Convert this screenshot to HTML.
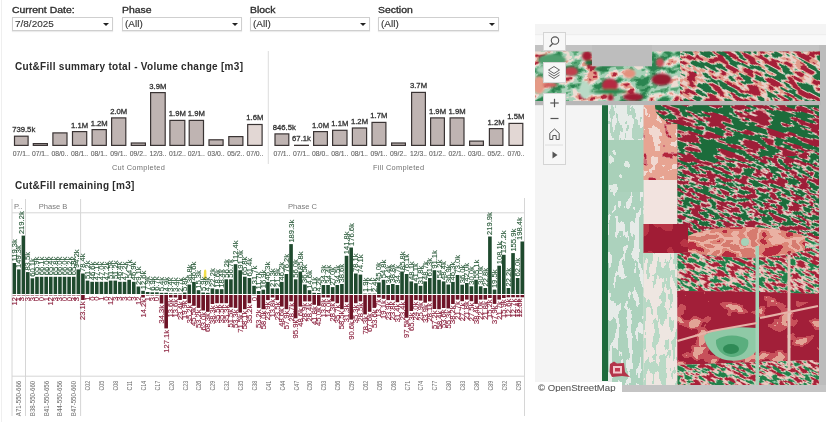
<!DOCTYPE html>
<html><head><meta charset="utf-8"><style>
*{margin:0;padding:0;box-sizing:border-box}
html,body{width:826px;height:422px;overflow:hidden;background:#fff;font-family:"Liberation Sans", Arial, sans-serif;color:#333}
.abs{position:absolute}
.flab{position:absolute;font-size:8.4px;line-height:10px;color:#2e2e2e;top:4.8px;transform:scaleX(1.245);transform-origin:0 0;white-space:nowrap;-webkit-text-stroke:0.3px #2e2e2e}
.dd span{display:inline-block;transform:scaleX(1.16);transform-origin:0 0;-webkit-text-stroke:0.1px #333}
.dd{position:absolute;top:17px;height:14px;border:1px solid #cfcfcf;background:#fff;font-size:8.6px;color:#333;padding-left:2.2px;line-height:12.4px;box-shadow:0 1px 1px rgba(0,0,0,0.08)}
.dd:after{content:"";position:absolute;right:3.5px;top:5px;border-left:3px solid transparent;border-right:3px solid transparent;border-top:3px solid #222}
.title{position:absolute;font-size:10px;font-weight:bold;color:#2b2b2b;letter-spacing:0.3px;white-space:nowrap}
svg text{font-family:"Liberation Sans", Arial, sans-serif}
.bl{font-size:7.7px;fill:#333;stroke:#333;stroke-width:0.3px}
.xl{font-size:6.8px;fill:#666;stroke:#666;stroke-width:0.12px}
.mapbtn{position:absolute;left:543.4px;width:22.3px;background:#f7f7f7;border:1px solid #d4d4d4}
</style></head><body>
<div class="abs" style="left:1px;top:0;width:1px;height:422px;background:#efefef"></div>
<div class="flab" style="left:12px">Current Date:</div>
<div class="dd" style="left:12px;width:101px"><span>7/8/2025</span></div>
<div class="flab" style="left:122px">Phase</div>
<div class="dd" style="left:122px;width:120px"><span>(All)</span></div>
<div class="flab" style="left:250px">Block</div>
<div class="dd" style="left:250px;width:120px"><span>(All)</span></div>
<div class="flab" style="left:378px">Section</div>
<div class="dd" style="left:378px;width:121px"><span>(All)</span></div>

<div class="title" style="left:15px;top:61px">Cut&amp;Fill summary total - Volume change [m3]</div>
<svg class="abs" style="left:0;top:0" width="530" height="180" viewBox="0 0 530 180">
<line x1="268.3" y1="51" x2="268.3" y2="164" stroke="#dcdcdc" stroke-width="1"/>
<rect x="14.5" y="136.2" width="13.6" height="9.2" fill="#bfb4b2" stroke="#3a3434" stroke-width="1.2"/>
<text x="23.7" y="132.1" text-anchor="middle" class="bl">739.5k</text>
<text x="21.3" y="156" text-anchor="middle" class="xl">07/1..</text>
<rect x="33.3" y="143.6" width="14.1" height="1.8" fill="#bfb4b2" stroke="#3a3434" stroke-width="1.2"/>
<text x="40.4" y="156" text-anchor="middle" class="xl">07/1..</text>
<rect x="52.9" y="132.9" width="14.1" height="12.5" fill="#bfb4b2" stroke="#3a3434" stroke-width="1.2"/>
<text x="59.9" y="156" text-anchor="middle" class="xl">08/0..</text>
<rect x="72.5" y="131.6" width="14.2" height="13.8" fill="#bfb4b2" stroke="#3a3434" stroke-width="1.2"/>
<text x="79.6" y="127.5" text-anchor="middle" class="bl">1.1M</text>
<text x="79.6" y="156" text-anchor="middle" class="xl">08/1..</text>
<rect x="92.1" y="129.6" width="14.2" height="15.8" fill="#bfb4b2" stroke="#3a3434" stroke-width="1.2"/>
<text x="99.2" y="125.5" text-anchor="middle" class="bl">1.2M</text>
<text x="99.2" y="156" text-anchor="middle" class="xl">08/1..</text>
<rect x="111.6" y="117.9" width="14.2" height="27.5" fill="#bfb4b2" stroke="#3a3434" stroke-width="1.2"/>
<text x="118.7" y="113.8" text-anchor="middle" class="bl">2.0M</text>
<text x="118.7" y="156" text-anchor="middle" class="xl">09/1..</text>
<rect x="131.3" y="143.0" width="14.1" height="2.4" fill="#bfb4b2" stroke="#3a3434" stroke-width="1.2"/>
<text x="138.3" y="156" text-anchor="middle" class="xl">09/2..</text>
<rect x="150.6" y="92.6" width="14.6" height="52.8" fill="#bfb4b2" stroke="#3a3434" stroke-width="1.2"/>
<text x="157.9" y="88.5" text-anchor="middle" class="bl">3.9M</text>
<text x="157.9" y="156" text-anchor="middle" class="xl">12/3..</text>
<rect x="169.9" y="120.4" width="14.9" height="25.0" fill="#bfb4b2" stroke="#3a3434" stroke-width="1.2"/>
<text x="177.4" y="116.3" text-anchor="middle" class="bl">1.9M</text>
<text x="177.4" y="156" text-anchor="middle" class="xl">01/2..</text>
<rect x="189.2" y="120.4" width="14.3" height="25.0" fill="#bfb4b2" stroke="#3a3434" stroke-width="1.2"/>
<text x="196.3" y="116.3" text-anchor="middle" class="bl">1.9M</text>
<text x="196.3" y="156" text-anchor="middle" class="xl">02/1..</text>
<rect x="209.0" y="139.8" width="14.1" height="5.6" fill="#bfb4b2" stroke="#3a3434" stroke-width="1.2"/>
<text x="216.1" y="156" text-anchor="middle" class="xl">03/0..</text>
<rect x="228.8" y="136.6" width="14.1" height="8.8" fill="#bfb4b2" stroke="#3a3434" stroke-width="1.2"/>
<text x="235.8" y="156" text-anchor="middle" class="xl">05/2..</text>
<rect x="247.7" y="124.5" width="14.4" height="20.9" fill="#e2d7d4" stroke="#3a3434" stroke-width="1.2"/>
<text x="254.9" y="120.4" text-anchor="middle" class="bl">1.6M</text>
<text x="254.9" y="156" text-anchor="middle" class="xl">07/0..</text>
<rect x="275.0" y="133.9" width="13.8" height="11.5" fill="#bfb4b2" stroke="#3a3434" stroke-width="1.2"/>
<text x="284.3" y="129.8" text-anchor="middle" class="bl">846.5k</text>
<text x="281.9" y="156" text-anchor="middle" class="xl">07/1..</text>
<rect x="294.6" y="145.3" width="13.8" height="0.1" fill="#bfb4b2" stroke="#3a3434" stroke-width="1.2"/>
<text x="301.5" y="141.2" text-anchor="middle" class="bl">67.1k</text>
<text x="301.5" y="156" text-anchor="middle" class="xl">07/1..</text>
<rect x="313.6" y="131.6" width="13.8" height="13.8" fill="#bfb4b2" stroke="#3a3434" stroke-width="1.2"/>
<text x="320.5" y="127.5" text-anchor="middle" class="bl">1.0M</text>
<text x="320.5" y="156" text-anchor="middle" class="xl">08/0..</text>
<rect x="332.6" y="130.3" width="14.4" height="15.1" fill="#bfb4b2" stroke="#3a3434" stroke-width="1.2"/>
<text x="339.8" y="126.2" text-anchor="middle" class="bl">1.1M</text>
<text x="339.8" y="156" text-anchor="middle" class="xl">08/1..</text>
<rect x="352.4" y="128.0" width="14.2" height="17.4" fill="#bfb4b2" stroke="#3a3434" stroke-width="1.2"/>
<text x="359.5" y="123.9" text-anchor="middle" class="bl">1.2M</text>
<text x="359.5" y="156" text-anchor="middle" class="xl">08/1..</text>
<rect x="372.0" y="122.4" width="13.9" height="23.0" fill="#bfb4b2" stroke="#3a3434" stroke-width="1.2"/>
<text x="378.9" y="118.3" text-anchor="middle" class="bl">1.7M</text>
<text x="378.9" y="156" text-anchor="middle" class="xl">09/1..</text>
<rect x="391.6" y="143.0" width="13.8" height="2.4" fill="#bfb4b2" stroke="#3a3434" stroke-width="1.2"/>
<text x="398.5" y="156" text-anchor="middle" class="xl">09/2..</text>
<rect x="411.6" y="92.4" width="13.8" height="53.0" fill="#bfb4b2" stroke="#3a3434" stroke-width="1.2"/>
<text x="418.5" y="88.3" text-anchor="middle" class="bl">3.7M</text>
<text x="418.5" y="156" text-anchor="middle" class="xl">12/3..</text>
<rect x="430.6" y="117.9" width="13.8" height="27.5" fill="#bfb4b2" stroke="#3a3434" stroke-width="1.2"/>
<text x="437.5" y="113.8" text-anchor="middle" class="bl">1.9M</text>
<text x="437.5" y="156" text-anchor="middle" class="xl">01/2..</text>
<rect x="450.1" y="117.9" width="13.9" height="27.5" fill="#bfb4b2" stroke="#3a3434" stroke-width="1.2"/>
<text x="457.1" y="113.8" text-anchor="middle" class="bl">1.9M</text>
<text x="457.1" y="156" text-anchor="middle" class="xl">02/1..</text>
<rect x="469.6" y="141.1" width="13.8" height="4.3" fill="#bfb4b2" stroke="#3a3434" stroke-width="1.2"/>
<text x="476.5" y="156" text-anchor="middle" class="xl">03/0..</text>
<rect x="489.4" y="128.6" width="13.5" height="16.8" fill="#bfb4b2" stroke="#3a3434" stroke-width="1.2"/>
<text x="496.1" y="124.5" text-anchor="middle" class="bl">1.2M</text>
<text x="496.1" y="156" text-anchor="middle" class="xl">05/2..</text>
<rect x="509.0" y="123.4" width="13.8" height="22.0" fill="#e2d7d4" stroke="#3a3434" stroke-width="1.2"/>
<text x="515.9" y="119.3" text-anchor="middle" class="bl">1.5M</text>
<text x="515.9" y="156" text-anchor="middle" class="xl">07/0..</text>
<text x="138.5" y="170.2" text-anchor="middle" font-size="7.4" letter-spacing="0.3" fill="#707070">Cut Completed</text>
<text x="398.7" y="170.2" text-anchor="middle" font-size="7.4" letter-spacing="0.3" fill="#707070">Fill Completed</text>
</svg>

<div class="title" style="left:15px;top:180px">Cut&amp;Fill remaining [m3]</div>
<svg class="abs" style="left:0;top:0" width="530" height="422" viewBox="0 0 530 422">
<g stroke="#d6d6d6" stroke-width="1">
<line x1="12" y1="199" x2="12" y2="416"/>
<line x1="25.5" y1="199" x2="25.5" y2="416"/>
<line x1="80.6" y1="199" x2="80.6" y2="416"/>
<line x1="524.5" y1="198" x2="524.5" y2="416"/>
<line x1="12" y1="212.8" x2="524.5" y2="212.8"/>
<line x1="12" y1="376.2" x2="524.5" y2="376.2"/>
</g>
<g font-size="7.6" fill="#7a7a7a">
<text x="14" y="208.7">P..</text>
<text x="53" y="208.7" text-anchor="middle">Phase B</text>
<text x="302.5" y="208.7" text-anchor="middle">Phase C</text>
<path d="M203.5,279 L204,271 C204.5,269 206,269 206.3,271 L206.5,279 Z" fill="#f2e04a"/>
</g>
<g font-size="7.6" stroke-width="0.12">
<rect x="12.60" y="263.0" width="3.50" height="31.0" fill="#1f4a2e"/>
<rect x="12.60" y="295.0" width="3.50" height="0.5" fill="#6e1427"/>
<rect x="17.10" y="269.4" width="3.50" height="24.6" fill="#1f4a2e"/>
<rect x="17.10" y="295.0" width="3.50" height="0.5" fill="#6e1427"/>
<rect x="21.60" y="235.6" width="3.40" height="58.4" fill="#1f4a2e"/>
<rect x="21.60" y="295.0" width="3.40" height="0.5" fill="#6e1427"/>
<rect x="26.00" y="272.1" width="3.59" height="21.9" fill="#1f4a2e"/>
<rect x="26.00" y="295.0" width="3.59" height="0.5" fill="#6e1427"/>
<rect x="30.59" y="278.3" width="3.59" height="15.7" fill="#1f4a2e"/>
<rect x="30.59" y="295.0" width="3.59" height="0.5" fill="#6e1427"/>
<rect x="35.18" y="276.8" width="3.59" height="17.2" fill="#1f4a2e"/>
<rect x="35.18" y="295.0" width="3.59" height="0.5" fill="#6e1427"/>
<rect x="39.77" y="276.8" width="3.59" height="17.2" fill="#1f4a2e"/>
<rect x="39.77" y="295.0" width="3.59" height="0.5" fill="#6e1427"/>
<rect x="44.37" y="276.8" width="3.59" height="17.2" fill="#1f4a2e"/>
<rect x="44.37" y="295.0" width="3.59" height="0.5" fill="#6e1427"/>
<rect x="48.96" y="276.8" width="3.59" height="17.2" fill="#1f4a2e"/>
<rect x="48.96" y="295.0" width="3.59" height="0.5" fill="#6e1427"/>
<rect x="53.55" y="276.8" width="3.59" height="17.2" fill="#1f4a2e"/>
<rect x="53.55" y="295.0" width="3.59" height="0.5" fill="#6e1427"/>
<rect x="58.14" y="276.8" width="3.59" height="17.2" fill="#1f4a2e"/>
<rect x="58.14" y="295.0" width="3.59" height="0.5" fill="#6e1427"/>
<rect x="62.73" y="276.8" width="3.59" height="17.2" fill="#1f4a2e"/>
<rect x="62.73" y="295.0" width="3.59" height="0.5" fill="#6e1427"/>
<rect x="67.32" y="276.8" width="3.59" height="17.2" fill="#1f4a2e"/>
<rect x="67.32" y="295.0" width="3.59" height="0.5" fill="#6e1427"/>
<rect x="71.92" y="276.8" width="3.59" height="17.2" fill="#1f4a2e"/>
<rect x="71.92" y="295.0" width="3.59" height="0.5" fill="#6e1427"/>
<rect x="76.51" y="269.4" width="3.59" height="24.6" fill="#1f4a2e"/>
<rect x="76.51" y="295.0" width="3.59" height="0.5" fill="#6e1427"/>
<rect x="81.10" y="273.5" width="3.62" height="20.5" fill="#1f4a2e"/>
<rect x="81.10" y="295.0" width="3.62" height="5.0" fill="#6e1427"/>
<rect x="85.72" y="280.6" width="3.62" height="13.4" fill="#1f4a2e"/>
<rect x="90.35" y="281.8" width="3.62" height="12.2" fill="#1f4a2e"/>
<rect x="94.97" y="281.8" width="3.62" height="12.2" fill="#1f4a2e"/>
<rect x="99.60" y="281.8" width="3.62" height="12.2" fill="#1f4a2e"/>
<rect x="104.22" y="281.8" width="3.62" height="12.2" fill="#1f4a2e"/>
<rect x="108.85" y="280.6" width="3.62" height="13.4" fill="#1f4a2e"/>
<rect x="113.47" y="280.6" width="3.62" height="13.4" fill="#1f4a2e"/>
<rect x="118.10" y="281.8" width="3.62" height="12.2" fill="#1f4a2e"/>
<rect x="122.72" y="281.8" width="3.62" height="12.2" fill="#1f4a2e"/>
<rect x="127.35" y="279.8" width="3.62" height="14.2" fill="#1f4a2e"/>
<rect x="131.97" y="281.8" width="3.62" height="12.2" fill="#1f4a2e"/>
<rect x="136.60" y="286.5" width="3.62" height="7.5" fill="#1f4a2e"/>
<rect x="141.22" y="290.8" width="3.62" height="3.2" fill="#1f4a2e"/>
<rect x="141.22" y="295.0" width="3.62" height="2.5" fill="#6e1427"/>
<rect x="145.85" y="292.0" width="3.62" height="2.0" fill="#1f4a2e"/>
<rect x="145.85" y="295.0" width="3.62" height="0.5" fill="#6e1427"/>
<rect x="150.47" y="292.3" width="3.62" height="1.7" fill="#1f4a2e"/>
<rect x="150.47" y="295.0" width="3.62" height="0.5" fill="#6e1427"/>
<rect x="155.10" y="292.3" width="3.62" height="1.7" fill="#1f4a2e"/>
<rect x="155.10" y="295.0" width="3.62" height="0.5" fill="#6e1427"/>
<rect x="159.72" y="292.8" width="3.62" height="1.2" fill="#1f4a2e"/>
<rect x="159.72" y="295.0" width="3.62" height="8.5" fill="#6e1427"/>
<rect x="164.35" y="292.8" width="3.62" height="1.2" fill="#1f4a2e"/>
<rect x="164.35" y="295.0" width="3.62" height="33.4" fill="#6e1427"/>
<rect x="168.97" y="293.3" width="3.62" height="0.7" fill="#1f4a2e"/>
<rect x="168.97" y="295.0" width="3.62" height="2.5" fill="#6e1427"/>
<rect x="173.60" y="293.3" width="3.62" height="0.7" fill="#1f4a2e"/>
<rect x="173.60" y="295.0" width="3.62" height="2.5" fill="#6e1427"/>
<rect x="178.22" y="293.5" width="3.62" height="0.5" fill="#1f4a2e"/>
<rect x="178.22" y="295.0" width="3.62" height="5.0" fill="#6e1427"/>
<rect x="182.85" y="292.5" width="3.62" height="1.5" fill="#1f4a2e"/>
<rect x="182.85" y="295.0" width="3.62" height="4.0" fill="#6e1427"/>
<rect x="187.47" y="284.5" width="3.62" height="9.5" fill="#1f4a2e"/>
<rect x="187.47" y="295.0" width="3.62" height="8.2" fill="#6e1427"/>
<rect x="192.10" y="281.9" width="3.62" height="12.1" fill="#1f4a2e"/>
<rect x="192.10" y="295.0" width="3.62" height="10.8" fill="#6e1427"/>
<rect x="196.72" y="290.2" width="3.62" height="3.8" fill="#1f4a2e"/>
<rect x="196.72" y="295.0" width="3.62" height="12.9" fill="#6e1427"/>
<rect x="201.35" y="292.5" width="3.62" height="1.5" fill="#1f4a2e"/>
<rect x="201.35" y="295.0" width="3.62" height="15.5" fill="#6e1427"/>
<rect x="205.97" y="292.8" width="3.62" height="1.2" fill="#1f4a2e"/>
<rect x="205.97" y="295.0" width="3.62" height="16.8" fill="#6e1427"/>
<rect x="210.60" y="288.4" width="3.62" height="5.6" fill="#1f4a2e"/>
<rect x="210.60" y="295.0" width="3.62" height="9.0" fill="#6e1427"/>
<rect x="215.22" y="289.2" width="3.62" height="4.8" fill="#1f4a2e"/>
<rect x="215.22" y="295.0" width="3.62" height="8.2" fill="#6e1427"/>
<rect x="219.85" y="289.2" width="3.62" height="4.8" fill="#1f4a2e"/>
<rect x="219.85" y="295.0" width="3.62" height="8.2" fill="#6e1427"/>
<rect x="224.47" y="279.3" width="3.62" height="14.7" fill="#1f4a2e"/>
<rect x="224.47" y="295.0" width="3.62" height="8.2" fill="#6e1427"/>
<rect x="229.10" y="279.3" width="3.62" height="14.7" fill="#1f4a2e"/>
<rect x="229.10" y="295.0" width="3.62" height="12.4" fill="#6e1427"/>
<rect x="233.72" y="264.2" width="3.62" height="29.8" fill="#1f4a2e"/>
<rect x="233.72" y="295.0" width="3.62" height="12.9" fill="#6e1427"/>
<rect x="238.35" y="270.2" width="3.62" height="23.8" fill="#1f4a2e"/>
<rect x="238.35" y="295.0" width="3.62" height="17.6" fill="#6e1427"/>
<rect x="242.97" y="276.7" width="3.62" height="17.3" fill="#1f4a2e"/>
<rect x="242.97" y="295.0" width="3.62" height="14.2" fill="#6e1427"/>
<rect x="247.60" y="278.0" width="3.62" height="16.0" fill="#1f4a2e"/>
<rect x="247.60" y="295.0" width="3.62" height="8.2" fill="#6e1427"/>
<rect x="252.22" y="285.8" width="3.63" height="8.2" fill="#1f4a2e"/>
<rect x="252.22" y="295.0" width="3.63" height="0.4" fill="#6e1427"/>
<rect x="256.85" y="291.0" width="3.62" height="3.0" fill="#1f4a2e"/>
<rect x="256.85" y="295.0" width="3.62" height="12.9" fill="#6e1427"/>
<rect x="261.48" y="289.7" width="3.62" height="4.3" fill="#1f4a2e"/>
<rect x="261.48" y="295.0" width="3.62" height="14.2" fill="#6e1427"/>
<rect x="266.10" y="281.9" width="3.62" height="12.1" fill="#1f4a2e"/>
<rect x="266.10" y="295.0" width="3.62" height="5.1" fill="#6e1427"/>
<rect x="270.73" y="288.4" width="3.62" height="5.6" fill="#1f4a2e"/>
<rect x="270.73" y="295.0" width="3.62" height="2.5" fill="#6e1427"/>
<rect x="275.35" y="288.4" width="3.62" height="5.6" fill="#1f4a2e"/>
<rect x="275.35" y="295.0" width="3.62" height="5.1" fill="#6e1427"/>
<rect x="279.98" y="281.9" width="3.62" height="12.1" fill="#1f4a2e"/>
<rect x="279.98" y="295.0" width="3.62" height="11.6" fill="#6e1427"/>
<rect x="284.60" y="274.0" width="3.62" height="20.0" fill="#1f4a2e"/>
<rect x="284.60" y="295.0" width="3.62" height="14.2" fill="#6e1427"/>
<rect x="289.23" y="244.1" width="3.62" height="49.9" fill="#1f4a2e"/>
<rect x="289.23" y="295.0" width="3.62" height="6.4" fill="#6e1427"/>
<rect x="293.85" y="279.3" width="3.62" height="14.7" fill="#1f4a2e"/>
<rect x="293.85" y="295.0" width="3.62" height="23.3" fill="#6e1427"/>
<rect x="298.48" y="271.5" width="3.62" height="22.5" fill="#1f4a2e"/>
<rect x="298.48" y="295.0" width="3.62" height="11.6" fill="#6e1427"/>
<rect x="303.10" y="284.5" width="3.62" height="9.5" fill="#1f4a2e"/>
<rect x="303.10" y="295.0" width="3.62" height="6.4" fill="#6e1427"/>
<rect x="307.73" y="290.2" width="3.62" height="3.8" fill="#1f4a2e"/>
<rect x="307.73" y="295.0" width="3.62" height="6.4" fill="#6e1427"/>
<rect x="312.35" y="292.8" width="3.62" height="1.2" fill="#1f4a2e"/>
<rect x="312.35" y="295.0" width="3.62" height="9.8" fill="#6e1427"/>
<rect x="316.98" y="293.0" width="3.62" height="1.0" fill="#1f4a2e"/>
<rect x="316.98" y="295.0" width="3.62" height="10.8" fill="#6e1427"/>
<rect x="321.60" y="285.0" width="3.62" height="9.0" fill="#1f4a2e"/>
<rect x="321.60" y="295.0" width="3.62" height="2.5" fill="#6e1427"/>
<rect x="326.23" y="285.0" width="3.62" height="9.0" fill="#1f4a2e"/>
<rect x="326.23" y="295.0" width="3.62" height="2.5" fill="#6e1427"/>
<rect x="330.85" y="287.1" width="3.62" height="6.9" fill="#1f4a2e"/>
<rect x="330.85" y="295.0" width="3.62" height="6.4" fill="#6e1427"/>
<rect x="335.48" y="285.0" width="3.62" height="9.0" fill="#1f4a2e"/>
<rect x="335.48" y="295.0" width="3.62" height="8.2" fill="#6e1427"/>
<rect x="340.10" y="284.0" width="3.62" height="10.0" fill="#1f4a2e"/>
<rect x="340.10" y="295.0" width="3.62" height="14.2" fill="#6e1427"/>
<rect x="344.73" y="255.8" width="3.62" height="38.2" fill="#1f4a2e"/>
<rect x="344.73" y="295.0" width="3.62" height="7.2" fill="#6e1427"/>
<rect x="349.35" y="247.5" width="3.62" height="46.5" fill="#1f4a2e"/>
<rect x="349.35" y="295.0" width="3.62" height="24.6" fill="#6e1427"/>
<rect x="353.98" y="273.5" width="3.62" height="20.5" fill="#1f4a2e"/>
<rect x="353.98" y="295.0" width="3.62" height="8.2" fill="#6e1427"/>
<rect x="358.60" y="274.6" width="3.62" height="19.4" fill="#1f4a2e"/>
<rect x="358.60" y="295.0" width="3.62" height="6.4" fill="#6e1427"/>
<rect x="363.23" y="293.6" width="3.62" height="0.4" fill="#1f4a2e"/>
<rect x="363.23" y="295.0" width="3.62" height="19.4" fill="#6e1427"/>
<rect x="367.85" y="293.6" width="3.62" height="0.4" fill="#1f4a2e"/>
<rect x="367.85" y="295.0" width="3.62" height="16.8" fill="#6e1427"/>
<rect x="372.48" y="293.6" width="3.62" height="0.4" fill="#1f4a2e"/>
<rect x="372.48" y="295.0" width="3.62" height="12.9" fill="#6e1427"/>
<rect x="377.10" y="282.4" width="3.62" height="11.6" fill="#1f4a2e"/>
<rect x="377.10" y="295.0" width="3.62" height="2.5" fill="#6e1427"/>
<rect x="381.73" y="279.8" width="3.62" height="14.2" fill="#1f4a2e"/>
<rect x="381.73" y="295.0" width="3.62" height="3.8" fill="#6e1427"/>
<rect x="386.35" y="285.0" width="3.62" height="9.0" fill="#1f4a2e"/>
<rect x="386.35" y="295.0" width="3.62" height="5.1" fill="#6e1427"/>
<rect x="390.98" y="284.0" width="3.62" height="10.0" fill="#1f4a2e"/>
<rect x="390.98" y="295.0" width="3.62" height="5.1" fill="#6e1427"/>
<rect x="395.60" y="285.0" width="3.62" height="9.0" fill="#1f4a2e"/>
<rect x="395.60" y="295.0" width="3.62" height="7.2" fill="#6e1427"/>
<rect x="400.23" y="271.5" width="3.62" height="22.5" fill="#1f4a2e"/>
<rect x="400.23" y="295.0" width="3.62" height="5.1" fill="#6e1427"/>
<rect x="404.85" y="274.0" width="3.62" height="20.0" fill="#1f4a2e"/>
<rect x="404.85" y="295.0" width="3.62" height="22.8" fill="#6e1427"/>
<rect x="409.48" y="281.4" width="3.62" height="12.6" fill="#1f4a2e"/>
<rect x="409.48" y="295.0" width="3.62" height="16.0" fill="#6e1427"/>
<rect x="414.10" y="283.2" width="3.62" height="10.8" fill="#1f4a2e"/>
<rect x="414.10" y="295.0" width="3.62" height="5.1" fill="#6e1427"/>
<rect x="418.73" y="285.8" width="3.62" height="8.2" fill="#1f4a2e"/>
<rect x="418.73" y="295.0" width="3.62" height="5.6" fill="#6e1427"/>
<rect x="423.35" y="281.4" width="3.62" height="12.6" fill="#1f4a2e"/>
<rect x="423.35" y="295.0" width="3.62" height="7.7" fill="#6e1427"/>
<rect x="427.98" y="278.0" width="3.62" height="16.0" fill="#1f4a2e"/>
<rect x="427.98" y="295.0" width="3.62" height="6.4" fill="#6e1427"/>
<rect x="432.60" y="270.2" width="3.62" height="23.8" fill="#1f4a2e"/>
<rect x="432.60" y="295.0" width="3.62" height="14.0" fill="#6e1427"/>
<rect x="437.23" y="279.8" width="3.62" height="14.2" fill="#1f4a2e"/>
<rect x="437.23" y="295.0" width="3.62" height="14.2" fill="#6e1427"/>
<rect x="441.85" y="281.4" width="3.62" height="12.6" fill="#1f4a2e"/>
<rect x="441.85" y="295.0" width="3.62" height="13.0" fill="#6e1427"/>
<rect x="446.48" y="284.5" width="3.62" height="9.5" fill="#1f4a2e"/>
<rect x="446.48" y="295.0" width="3.62" height="13.4" fill="#6e1427"/>
<rect x="451.10" y="281.9" width="3.62" height="12.1" fill="#1f4a2e"/>
<rect x="451.10" y="295.0" width="3.62" height="9.0" fill="#6e1427"/>
<rect x="455.73" y="275.0" width="3.62" height="19.0" fill="#1f4a2e"/>
<rect x="455.73" y="295.0" width="3.62" height="4.6" fill="#6e1427"/>
<rect x="460.35" y="284.7" width="3.62" height="9.3" fill="#1f4a2e"/>
<rect x="460.35" y="295.0" width="3.62" height="6.2" fill="#6e1427"/>
<rect x="464.98" y="283.0" width="3.62" height="11.0" fill="#1f4a2e"/>
<rect x="464.98" y="295.0" width="3.62" height="4.6" fill="#6e1427"/>
<rect x="469.60" y="286.3" width="3.62" height="7.7" fill="#1f4a2e"/>
<rect x="469.60" y="295.0" width="3.62" height="6.2" fill="#6e1427"/>
<rect x="474.23" y="279.7" width="3.62" height="14.3" fill="#1f4a2e"/>
<rect x="474.23" y="295.0" width="3.62" height="8.9" fill="#6e1427"/>
<rect x="478.85" y="286.3" width="3.62" height="7.7" fill="#1f4a2e"/>
<rect x="478.85" y="295.0" width="3.62" height="4.6" fill="#6e1427"/>
<rect x="483.48" y="288.0" width="3.62" height="6.0" fill="#1f4a2e"/>
<rect x="483.48" y="295.0" width="3.62" height="4.6" fill="#6e1427"/>
<rect x="488.10" y="236.5" width="3.62" height="57.5" fill="#1f4a2e"/>
<rect x="488.10" y="295.0" width="3.62" height="3.0" fill="#6e1427"/>
<rect x="492.73" y="289.6" width="3.62" height="4.4" fill="#1f4a2e"/>
<rect x="492.73" y="295.0" width="3.62" height="8.9" fill="#6e1427"/>
<rect x="497.35" y="265.7" width="3.62" height="28.3" fill="#1f4a2e"/>
<rect x="497.35" y="295.0" width="3.62" height="4.6" fill="#6e1427"/>
<rect x="501.98" y="254.8" width="3.62" height="39.2" fill="#1f4a2e"/>
<rect x="501.98" y="295.0" width="3.62" height="3.0" fill="#6e1427"/>
<rect x="506.60" y="288.0" width="3.62" height="6.0" fill="#1f4a2e"/>
<rect x="506.60" y="295.0" width="3.62" height="2.3" fill="#6e1427"/>
<rect x="511.23" y="253.1" width="3.62" height="40.9" fill="#1f4a2e"/>
<rect x="511.23" y="295.0" width="3.62" height="2.3" fill="#6e1427"/>
<rect x="515.85" y="278.0" width="3.62" height="16.0" fill="#1f4a2e"/>
<rect x="515.85" y="295.0" width="3.62" height="2.3" fill="#6e1427"/>
<rect x="520.48" y="241.5" width="3.62" height="52.5" fill="#1f4a2e"/>
<rect x="520.48" y="295.0" width="3.62" height="2.3" fill="#6e1427"/>
<text x="16.85" y="261.5" transform="rotate(-90 16.85 261.5)" fill="#2a5a3a" stroke="#2a5a3a">119.3k</text>
<text x="16.85" y="297.0" transform="rotate(-90 16.85 297.0)" text-anchor="end" fill="#8a1f3c" stroke="#8a1f3c">12</text>
<text x="21.35" y="267.9" transform="rotate(-90 21.35 267.9)" fill="#2a5a3a" stroke="#2a5a3a">149.3k</text>
<text x="21.35" y="297.0" transform="rotate(-90 21.35 297.0)" text-anchor="end" fill="#8a1f3c" stroke="#8a1f3c">1</text>
<text x="24.20" y="234.1" transform="rotate(-90 24.20 234.1)" fill="#2a5a3a" stroke="#2a5a3a">219.2k</text>
<text x="24.20" y="297.0" transform="rotate(-90 24.20 297.0)" text-anchor="end" fill="#8a1f3c" stroke="#8a1f3c">3</text>
<text x="30.30" y="270.6" transform="rotate(-90 30.30 270.6)" fill="#2a5a3a" stroke="#2a5a3a">83.5k</text>
<text x="30.30" y="297.0" transform="rotate(-90 30.30 297.0)" text-anchor="end" fill="#8a1f3c" stroke="#8a1f3c">3</text>
<text x="34.89" y="276.8" transform="rotate(-90 34.89 276.8)" fill="#2a5a3a" stroke="#2a5a3a">60.1k</text>
<text x="34.89" y="297.0" transform="rotate(-90 34.89 297.0)" text-anchor="end" fill="#8a1f3c" stroke="#8a1f3c">3</text>
<text x="39.48" y="275.3" transform="rotate(-90 39.48 275.3)" fill="#2a5a3a" stroke="#2a5a3a">65.9k</text>
<text x="39.48" y="297.0" transform="rotate(-90 39.48 297.0)" text-anchor="end" fill="#8a1f3c" stroke="#8a1f3c">0</text>
<text x="44.07" y="275.3" transform="rotate(-90 44.07 275.3)" fill="#2a5a3a" stroke="#2a5a3a">66.1k</text>
<text x="44.07" y="297.0" transform="rotate(-90 44.07 297.0)" text-anchor="end" fill="#8a1f3c" stroke="#8a1f3c">0</text>
<text x="48.66" y="275.3" transform="rotate(-90 48.66 275.3)" fill="#2a5a3a" stroke="#2a5a3a">66.0k</text>
<text x="48.66" y="297.0" transform="rotate(-90 48.66 297.0)" text-anchor="end" fill="#8a1f3c" stroke="#8a1f3c">1</text>
<text x="53.25" y="275.3" transform="rotate(-90 53.25 275.3)" fill="#2a5a3a" stroke="#2a5a3a">65.4k</text>
<text x="53.25" y="297.0" transform="rotate(-90 53.25 297.0)" text-anchor="end" fill="#8a1f3c" stroke="#8a1f3c">12</text>
<text x="57.85" y="275.3" transform="rotate(-90 57.85 275.3)" fill="#2a5a3a" stroke="#2a5a3a">65.8k</text>
<text x="57.85" y="297.0" transform="rotate(-90 57.85 297.0)" text-anchor="end" fill="#8a1f3c" stroke="#8a1f3c">3</text>
<text x="62.44" y="275.3" transform="rotate(-90 62.44 275.3)" fill="#2a5a3a" stroke="#2a5a3a">66.0k</text>
<text x="62.44" y="297.0" transform="rotate(-90 62.44 297.0)" text-anchor="end" fill="#8a1f3c" stroke="#8a1f3c">3</text>
<text x="67.03" y="275.3" transform="rotate(-90 67.03 275.3)" fill="#2a5a3a" stroke="#2a5a3a">66.0k</text>
<text x="67.03" y="297.0" transform="rotate(-90 67.03 297.0)" text-anchor="end" fill="#8a1f3c" stroke="#8a1f3c">0</text>
<text x="71.62" y="275.3" transform="rotate(-90 71.62 275.3)" fill="#2a5a3a" stroke="#2a5a3a">66.2k</text>
<text x="71.62" y="297.0" transform="rotate(-90 71.62 297.0)" text-anchor="end" fill="#8a1f3c" stroke="#8a1f3c">0</text>
<text x="76.21" y="275.3" transform="rotate(-90 76.21 275.3)" fill="#2a5a3a" stroke="#2a5a3a">65.8k</text>
<text x="76.21" y="297.0" transform="rotate(-90 76.21 297.0)" text-anchor="end" fill="#8a1f3c" stroke="#8a1f3c">3</text>
<text x="79.20" y="267.9" transform="rotate(-90 79.20 267.9)" fill="#2a5a3a" stroke="#2a5a3a">94.2k</text>
<text x="79.20" y="297.0" transform="rotate(-90 79.20 297.0)" text-anchor="end" fill="#8a1f3c" stroke="#8a1f3c">3</text>
<text x="85.41" y="272.0" transform="rotate(-90 85.41 272.0)" fill="#2a5a3a" stroke="#2a5a3a">78.4k</text>
<text x="85.41" y="301.5" transform="rotate(-90 85.41 301.5)" text-anchor="end" fill="#8a1f3c" stroke="#8a1f3c">23.1k</text>
<text x="90.04" y="279.1" transform="rotate(-90 90.04 279.1)" fill="#2a5a3a" stroke="#2a5a3a">51.2k</text>
<text x="90.04" y="296.5" transform="rotate(-90 90.04 296.5)" text-anchor="end" fill="#8a1f3c" stroke="#8a1f3c">1</text>
<text x="94.66" y="280.3" transform="rotate(-90 94.66 280.3)" fill="#2a5a3a" stroke="#2a5a3a">46.6k</text>
<text x="94.66" y="296.5" transform="rotate(-90 94.66 296.5)" text-anchor="end" fill="#8a1f3c" stroke="#8a1f3c">0</text>
<text x="99.29" y="280.3" transform="rotate(-90 99.29 280.3)" fill="#2a5a3a" stroke="#2a5a3a">47.1k</text>
<text x="99.29" y="296.5" transform="rotate(-90 99.29 296.5)" text-anchor="end" fill="#8a1f3c" stroke="#8a1f3c">0</text>
<text x="103.91" y="280.3" transform="rotate(-90 103.91 280.3)" fill="#2a5a3a" stroke="#2a5a3a">47.0k</text>
<text x="103.91" y="296.5" transform="rotate(-90 103.91 296.5)" text-anchor="end" fill="#8a1f3c" stroke="#8a1f3c">1</text>
<text x="108.54" y="280.3" transform="rotate(-90 108.54 280.3)" fill="#2a5a3a" stroke="#2a5a3a">47.2k</text>
<text x="108.54" y="296.5" transform="rotate(-90 108.54 296.5)" text-anchor="end" fill="#8a1f3c" stroke="#8a1f3c">0</text>
<text x="113.16" y="279.1" transform="rotate(-90 113.16 279.1)" fill="#2a5a3a" stroke="#2a5a3a">51.5k</text>
<text x="113.16" y="296.5" transform="rotate(-90 113.16 296.5)" text-anchor="end" fill="#8a1f3c" stroke="#8a1f3c">12</text>
<text x="117.79" y="279.1" transform="rotate(-90 117.79 279.1)" fill="#2a5a3a" stroke="#2a5a3a">51.2k</text>
<text x="117.79" y="296.5" transform="rotate(-90 117.79 296.5)" text-anchor="end" fill="#8a1f3c" stroke="#8a1f3c">3</text>
<text x="122.41" y="280.3" transform="rotate(-90 122.41 280.3)" fill="#2a5a3a" stroke="#2a5a3a">46.4k</text>
<text x="122.41" y="296.5" transform="rotate(-90 122.41 296.5)" text-anchor="end" fill="#8a1f3c" stroke="#8a1f3c">3</text>
<text x="127.04" y="280.3" transform="rotate(-90 127.04 280.3)" fill="#2a5a3a" stroke="#2a5a3a">47.2k</text>
<text x="127.04" y="296.5" transform="rotate(-90 127.04 296.5)" text-anchor="end" fill="#8a1f3c" stroke="#8a1f3c">3</text>
<text x="131.66" y="278.3" transform="rotate(-90 131.66 278.3)" fill="#2a5a3a" stroke="#2a5a3a">54.7k</text>
<text x="131.66" y="296.5" transform="rotate(-90 131.66 296.5)" text-anchor="end" fill="#8a1f3c" stroke="#8a1f3c">0</text>
<text x="136.29" y="280.3" transform="rotate(-90 136.29 280.3)" fill="#2a5a3a" stroke="#2a5a3a">46.9k</text>
<text x="136.29" y="296.5" transform="rotate(-90 136.29 296.5)" text-anchor="end" fill="#8a1f3c" stroke="#8a1f3c">3</text>
<text x="140.91" y="285.0" transform="rotate(-90 140.91 285.0)" fill="#2a5a3a" stroke="#2a5a3a">29.1k</text>
<text x="140.91" y="296.5" transform="rotate(-90 140.91 296.5)" text-anchor="end" fill="#8a1f3c" stroke="#8a1f3c">12</text>
<text x="145.54" y="289.3" transform="rotate(-90 145.54 289.3)" fill="#2a5a3a" stroke="#2a5a3a">12.6k</text>
<text x="145.54" y="299.0" transform="rotate(-90 145.54 299.0)" text-anchor="end" fill="#8a1f3c" stroke="#8a1f3c">14.2k</text>
<text x="150.16" y="290.5" transform="rotate(-90 150.16 290.5)" fill="#2a5a3a" stroke="#2a5a3a">7.9k</text>
<text x="150.16" y="297.0" transform="rotate(-90 150.16 297.0)" text-anchor="end" fill="#8a1f3c" stroke="#8a1f3c">1</text>
<text x="154.79" y="290.8" transform="rotate(-90 154.79 290.8)" fill="#2a5a3a" stroke="#2a5a3a">6.9k</text>
<text x="154.79" y="297.0" transform="rotate(-90 154.79 297.0)" text-anchor="end" fill="#8a1f3c" stroke="#8a1f3c">3</text>
<text x="159.41" y="290.8" transform="rotate(-90 159.41 290.8)" fill="#2a5a3a" stroke="#2a5a3a">6.7k</text>
<text x="159.41" y="297.0" transform="rotate(-90 159.41 297.0)" text-anchor="end" fill="#8a1f3c" stroke="#8a1f3c">0</text>
<text x="164.04" y="291.3" transform="rotate(-90 164.04 291.3)" fill="#2a5a3a" stroke="#2a5a3a">5.4k</text>
<text x="164.04" y="305.0" transform="rotate(-90 164.04 305.0)" text-anchor="end" fill="#8a1f3c" stroke="#8a1f3c">34.3k</text>
<text x="168.66" y="291.3" transform="rotate(-90 168.66 291.3)" fill="#2a5a3a" stroke="#2a5a3a">4.9k</text>
<text x="168.66" y="329.9" transform="rotate(-90 168.66 329.9)" text-anchor="end" fill="#8a1f3c" stroke="#8a1f3c">127.1k</text>
<text x="173.29" y="291.8" transform="rotate(-90 173.29 291.8)" fill="#2a5a3a" stroke="#2a5a3a">3.4k</text>
<text x="173.29" y="299.0" transform="rotate(-90 173.29 299.0)" text-anchor="end" fill="#8a1f3c" stroke="#8a1f3c">13.6k</text>
<text x="177.91" y="291.8" transform="rotate(-90 177.91 291.8)" fill="#2a5a3a" stroke="#2a5a3a">3.4k</text>
<text x="177.91" y="299.0" transform="rotate(-90 177.91 299.0)" text-anchor="end" fill="#8a1f3c" stroke="#8a1f3c">13.6k</text>
<text x="182.54" y="292.0" transform="rotate(-90 182.54 292.0)" fill="#2a5a3a" stroke="#2a5a3a">2.7k</text>
<text x="182.54" y="301.5" transform="rotate(-90 182.54 301.5)" text-anchor="end" fill="#8a1f3c" stroke="#8a1f3c">23.4k</text>
<text x="187.16" y="291.0" transform="rotate(-90 187.16 291.0)" fill="#2a5a3a" stroke="#2a5a3a">5.8k</text>
<text x="187.16" y="300.5" transform="rotate(-90 187.16 300.5)" text-anchor="end" fill="#8a1f3c" stroke="#8a1f3c">19.9k</text>
<text x="191.79" y="283.0" transform="rotate(-90 191.79 283.0)" fill="#2a5a3a" stroke="#2a5a3a">36.8k</text>
<text x="191.79" y="304.7" transform="rotate(-90 191.79 304.7)" text-anchor="end" fill="#8a1f3c" stroke="#8a1f3c">35.2k</text>
<text x="196.41" y="280.4" transform="rotate(-90 196.41 280.4)" fill="#2a5a3a" stroke="#2a5a3a">46.6k</text>
<text x="196.41" y="307.3" transform="rotate(-90 196.41 307.3)" text-anchor="end" fill="#8a1f3c" stroke="#8a1f3c">45.5k</text>
<text x="201.04" y="288.7" transform="rotate(-90 201.04 288.7)" fill="#2a5a3a" stroke="#2a5a3a">15.3k</text>
<text x="201.04" y="309.4" transform="rotate(-90 201.04 309.4)" text-anchor="end" fill="#8a1f3c" stroke="#8a1f3c">53.2k</text>
<text x="205.66" y="291.0" transform="rotate(-90 205.66 291.0)" fill="#2a5a3a" stroke="#2a5a3a">5.9k</text>
<text x="205.66" y="312.0" transform="rotate(-90 205.66 312.0)" text-anchor="end" fill="#8a1f3c" stroke="#8a1f3c">63.0k</text>
<text x="210.29" y="291.3" transform="rotate(-90 210.29 291.3)" fill="#2a5a3a" stroke="#2a5a3a">4.9k</text>
<text x="210.29" y="313.3" transform="rotate(-90 210.29 313.3)" text-anchor="end" fill="#8a1f3c" stroke="#8a1f3c">68.3k</text>
<text x="214.91" y="286.9" transform="rotate(-90 214.91 286.9)" fill="#2a5a3a" stroke="#2a5a3a">22.2k</text>
<text x="214.91" y="305.5" transform="rotate(-90 214.91 305.5)" text-anchor="end" fill="#8a1f3c" stroke="#8a1f3c">38.3k</text>
<text x="219.54" y="287.7" transform="rotate(-90 219.54 287.7)" fill="#2a5a3a" stroke="#2a5a3a">18.6k</text>
<text x="219.54" y="304.7" transform="rotate(-90 219.54 304.7)" text-anchor="end" fill="#8a1f3c" stroke="#8a1f3c">35.5k</text>
<text x="224.16" y="287.7" transform="rotate(-90 224.16 287.7)" fill="#2a5a3a" stroke="#2a5a3a">18.4k</text>
<text x="224.16" y="304.7" transform="rotate(-90 224.16 304.7)" text-anchor="end" fill="#8a1f3c" stroke="#8a1f3c">35.5k</text>
<text x="228.79" y="277.8" transform="rotate(-90 228.79 277.8)" fill="#2a5a3a" stroke="#2a5a3a">56.2k</text>
<text x="228.79" y="304.7" transform="rotate(-90 228.79 304.7)" text-anchor="end" fill="#8a1f3c" stroke="#8a1f3c">35.3k</text>
<text x="233.41" y="277.8" transform="rotate(-90 233.41 277.8)" fill="#2a5a3a" stroke="#2a5a3a">56.7k</text>
<text x="233.41" y="308.9" transform="rotate(-90 233.41 308.9)" text-anchor="end" fill="#8a1f3c" stroke="#8a1f3c">51.5k</text>
<text x="238.04" y="262.7" transform="rotate(-90 238.04 262.7)" fill="#2a5a3a" stroke="#2a5a3a">112.4k</text>
<text x="238.04" y="309.4" transform="rotate(-90 238.04 309.4)" text-anchor="end" fill="#8a1f3c" stroke="#8a1f3c">53.3k</text>
<text x="242.66" y="268.7" transform="rotate(-90 242.66 268.7)" fill="#2a5a3a" stroke="#2a5a3a">91.0k</text>
<text x="242.66" y="314.1" transform="rotate(-90 242.66 314.1)" text-anchor="end" fill="#8a1f3c" stroke="#8a1f3c">71.5k</text>
<text x="247.29" y="275.2" transform="rotate(-90 247.29 275.2)" fill="#2a5a3a" stroke="#2a5a3a">65.8k</text>
<text x="247.29" y="310.7" transform="rotate(-90 247.29 310.7)" text-anchor="end" fill="#8a1f3c" stroke="#8a1f3c">58.1k</text>
<text x="251.91" y="276.5" transform="rotate(-90 251.91 276.5)" fill="#2a5a3a" stroke="#2a5a3a">61.4k</text>
<text x="251.91" y="304.7" transform="rotate(-90 251.91 304.7)" text-anchor="end" fill="#8a1f3c" stroke="#8a1f3c">35.2k</text>
<text x="256.54" y="284.3" transform="rotate(-90 256.54 284.3)" fill="#2a5a3a" stroke="#2a5a3a">31.7k</text>
<text x="256.54" y="296.9" transform="rotate(-90 256.54 296.9)" text-anchor="end" fill="#8a1f3c" stroke="#8a1f3c">0</text>
<text x="261.16" y="289.5" transform="rotate(-90 261.16 289.5)" fill="#2a5a3a" stroke="#2a5a3a">11.7k</text>
<text x="261.16" y="309.4" transform="rotate(-90 261.16 309.4)" text-anchor="end" fill="#8a1f3c" stroke="#8a1f3c">53.2k</text>
<text x="265.79" y="288.2" transform="rotate(-90 265.79 288.2)" fill="#2a5a3a" stroke="#2a5a3a">16.9k</text>
<text x="265.79" y="310.7" transform="rotate(-90 265.79 310.7)" text-anchor="end" fill="#8a1f3c" stroke="#8a1f3c">58.0k</text>
<text x="270.41" y="280.4" transform="rotate(-90 270.41 280.4)" fill="#2a5a3a" stroke="#2a5a3a">46.3k</text>
<text x="270.41" y="301.6" transform="rotate(-90 270.41 301.6)" text-anchor="end" fill="#8a1f3c" stroke="#8a1f3c">23.9k</text>
<text x="275.04" y="286.9" transform="rotate(-90 275.04 286.9)" fill="#2a5a3a" stroke="#2a5a3a">21.3k</text>
<text x="275.04" y="299.0" transform="rotate(-90 275.04 299.0)" text-anchor="end" fill="#8a1f3c" stroke="#8a1f3c">13.8k</text>
<text x="279.66" y="286.9" transform="rotate(-90 279.66 286.9)" fill="#2a5a3a" stroke="#2a5a3a">21.9k</text>
<text x="279.66" y="301.6" transform="rotate(-90 279.66 301.6)" text-anchor="end" fill="#8a1f3c" stroke="#8a1f3c">23.5k</text>
<text x="284.29" y="280.4" transform="rotate(-90 284.29 280.4)" fill="#2a5a3a" stroke="#2a5a3a">46.2k</text>
<text x="284.29" y="308.1" transform="rotate(-90 284.29 308.1)" text-anchor="end" fill="#8a1f3c" stroke="#8a1f3c">48.6k</text>
<text x="288.91" y="272.5" transform="rotate(-90 288.91 272.5)" fill="#2a5a3a" stroke="#2a5a3a">76.2k</text>
<text x="288.91" y="310.7" transform="rotate(-90 288.91 310.7)" text-anchor="end" fill="#8a1f3c" stroke="#8a1f3c">57.9k</text>
<text x="293.54" y="242.6" transform="rotate(-90 293.54 242.6)" fill="#2a5a3a" stroke="#2a5a3a">189.3k</text>
<text x="293.54" y="302.9" transform="rotate(-90 293.54 302.9)" text-anchor="end" fill="#8a1f3c" stroke="#8a1f3c">28.7k</text>
<text x="298.16" y="277.8" transform="rotate(-90 298.16 277.8)" fill="#2a5a3a" stroke="#2a5a3a">56.0k</text>
<text x="298.16" y="319.8" transform="rotate(-90 298.16 319.8)" text-anchor="end" fill="#8a1f3c" stroke="#8a1f3c">95.9k</text>
<text x="302.79" y="270.0" transform="rotate(-90 302.79 270.0)" fill="#2a5a3a" stroke="#2a5a3a">85.8k</text>
<text x="302.79" y="308.1" transform="rotate(-90 302.79 308.1)" text-anchor="end" fill="#8a1f3c" stroke="#8a1f3c">48.6k</text>
<text x="307.41" y="283.0" transform="rotate(-90 307.41 283.0)" fill="#2a5a3a" stroke="#2a5a3a">36.5k</text>
<text x="307.41" y="302.9" transform="rotate(-90 307.41 302.9)" text-anchor="end" fill="#8a1f3c" stroke="#8a1f3c">28.9k</text>
<text x="312.04" y="288.7" transform="rotate(-90 312.04 288.7)" fill="#2a5a3a" stroke="#2a5a3a">14.6k</text>
<text x="312.04" y="302.9" transform="rotate(-90 312.04 302.9)" text-anchor="end" fill="#8a1f3c" stroke="#8a1f3c">28.4k</text>
<text x="316.66" y="291.3" transform="rotate(-90 316.66 291.3)" fill="#2a5a3a" stroke="#2a5a3a">5.1k</text>
<text x="316.66" y="306.3" transform="rotate(-90 316.66 306.3)" text-anchor="end" fill="#8a1f3c" stroke="#8a1f3c">41.8k</text>
<text x="321.29" y="291.5" transform="rotate(-90 321.29 291.5)" fill="#2a5a3a" stroke="#2a5a3a">4.2k</text>
<text x="321.29" y="307.3" transform="rotate(-90 321.29 307.3)" text-anchor="end" fill="#8a1f3c" stroke="#8a1f3c">45.0k</text>
<text x="325.91" y="283.5" transform="rotate(-90 325.91 283.5)" fill="#2a5a3a" stroke="#2a5a3a">34.3k</text>
<text x="325.91" y="299.0" transform="rotate(-90 325.91 299.0)" text-anchor="end" fill="#8a1f3c" stroke="#8a1f3c">13.8k</text>
<text x="330.54" y="283.5" transform="rotate(-90 330.54 283.5)" fill="#2a5a3a" stroke="#2a5a3a">34.4k</text>
<text x="330.54" y="299.0" transform="rotate(-90 330.54 299.0)" text-anchor="end" fill="#8a1f3c" stroke="#8a1f3c">14.0k</text>
<text x="335.16" y="285.6" transform="rotate(-90 335.16 285.6)" fill="#2a5a3a" stroke="#2a5a3a">27.0k</text>
<text x="335.16" y="302.9" transform="rotate(-90 335.16 302.9)" text-anchor="end" fill="#8a1f3c" stroke="#8a1f3c">28.3k</text>
<text x="339.79" y="283.5" transform="rotate(-90 339.79 283.5)" fill="#2a5a3a" stroke="#2a5a3a">34.5k</text>
<text x="339.79" y="304.7" transform="rotate(-90 339.79 304.7)" text-anchor="end" fill="#8a1f3c" stroke="#8a1f3c">35.7k</text>
<text x="344.41" y="282.5" transform="rotate(-90 344.41 282.5)" fill="#2a5a3a" stroke="#2a5a3a">38.6k</text>
<text x="344.41" y="310.7" transform="rotate(-90 344.41 310.7)" text-anchor="end" fill="#8a1f3c" stroke="#8a1f3c">58.5k</text>
<text x="349.04" y="254.3" transform="rotate(-90 349.04 254.3)" fill="#2a5a3a" stroke="#2a5a3a">141.8k</text>
<text x="349.04" y="303.7" transform="rotate(-90 349.04 303.7)" text-anchor="end" fill="#8a1f3c" stroke="#8a1f3c">31.3k</text>
<text x="353.66" y="246.0" transform="rotate(-90 353.66 246.0)" fill="#2a5a3a" stroke="#2a5a3a">176.6k</text>
<text x="353.66" y="321.1" transform="rotate(-90 353.66 321.1)" text-anchor="end" fill="#8a1f3c" stroke="#8a1f3c">90.6k</text>
<text x="358.29" y="272.0" transform="rotate(-90 358.29 272.0)" fill="#2a5a3a" stroke="#2a5a3a">78.1k</text>
<text x="358.29" y="304.7" transform="rotate(-90 358.29 304.7)" text-anchor="end" fill="#8a1f3c" stroke="#8a1f3c">35.3k</text>
<text x="362.91" y="273.1" transform="rotate(-90 362.91 273.1)" fill="#2a5a3a" stroke="#2a5a3a">74.1k</text>
<text x="362.91" y="302.9" transform="rotate(-90 362.91 302.9)" text-anchor="end" fill="#8a1f3c" stroke="#8a1f3c">28.5k</text>
<text x="367.54" y="292.1" transform="rotate(-90 367.54 292.1)" fill="#2a5a3a" stroke="#2a5a3a">1.9k</text>
<text x="367.54" y="315.9" transform="rotate(-90 367.54 315.9)" text-anchor="end" fill="#8a1f3c" stroke="#8a1f3c">78.3k</text>
<text x="372.16" y="292.1" transform="rotate(-90 372.16 292.1)" fill="#2a5a3a" stroke="#2a5a3a">1.7k</text>
<text x="372.16" y="313.3" transform="rotate(-90 372.16 313.3)" text-anchor="end" fill="#8a1f3c" stroke="#8a1f3c">67.6k</text>
<text x="376.79" y="292.1" transform="rotate(-90 376.79 292.1)" fill="#2a5a3a" stroke="#2a5a3a">2.4k</text>
<text x="376.79" y="309.4" transform="rotate(-90 376.79 309.4)" text-anchor="end" fill="#8a1f3c" stroke="#8a1f3c">53.6k</text>
<text x="381.41" y="280.9" transform="rotate(-90 381.41 280.9)" fill="#2a5a3a" stroke="#2a5a3a">45.0k</text>
<text x="381.41" y="299.0" transform="rotate(-90 381.41 299.0)" text-anchor="end" fill="#8a1f3c" stroke="#8a1f3c">13.7k</text>
<text x="386.04" y="278.3" transform="rotate(-90 386.04 278.3)" fill="#2a5a3a" stroke="#2a5a3a">54.8k</text>
<text x="386.04" y="300.3" transform="rotate(-90 386.04 300.3)" text-anchor="end" fill="#8a1f3c" stroke="#8a1f3c">19.1k</text>
<text x="390.66" y="283.5" transform="rotate(-90 390.66 283.5)" fill="#2a5a3a" stroke="#2a5a3a">34.4k</text>
<text x="390.66" y="301.6" transform="rotate(-90 390.66 301.6)" text-anchor="end" fill="#8a1f3c" stroke="#8a1f3c">23.9k</text>
<text x="395.29" y="282.5" transform="rotate(-90 395.29 282.5)" fill="#2a5a3a" stroke="#2a5a3a">38.8k</text>
<text x="395.29" y="301.6" transform="rotate(-90 395.29 301.6)" text-anchor="end" fill="#8a1f3c" stroke="#8a1f3c">23.8k</text>
<text x="399.91" y="283.5" transform="rotate(-90 399.91 283.5)" fill="#2a5a3a" stroke="#2a5a3a">34.7k</text>
<text x="399.91" y="303.7" transform="rotate(-90 399.91 303.7)" text-anchor="end" fill="#8a1f3c" stroke="#8a1f3c">31.4k</text>
<text x="404.54" y="270.0" transform="rotate(-90 404.54 270.0)" fill="#2a5a3a" stroke="#2a5a3a">85.8k</text>
<text x="404.54" y="301.6" transform="rotate(-90 404.54 301.6)" text-anchor="end" fill="#8a1f3c" stroke="#8a1f3c">23.4k</text>
<text x="409.16" y="272.5" transform="rotate(-90 409.16 272.5)" fill="#2a5a3a" stroke="#2a5a3a">76.1k</text>
<text x="409.16" y="319.3" transform="rotate(-90 409.16 319.3)" text-anchor="end" fill="#8a1f3c" stroke="#8a1f3c">97.5k</text>
<text x="413.79" y="279.9" transform="rotate(-90 413.79 279.9)" fill="#2a5a3a" stroke="#2a5a3a">48.1k</text>
<text x="413.79" y="312.5" transform="rotate(-90 413.79 312.5)" text-anchor="end" fill="#8a1f3c" stroke="#8a1f3c">65.3k</text>
<text x="418.41" y="281.7" transform="rotate(-90 418.41 281.7)" fill="#2a5a3a" stroke="#2a5a3a">41.1k</text>
<text x="418.41" y="301.6" transform="rotate(-90 418.41 301.6)" text-anchor="end" fill="#8a1f3c" stroke="#8a1f3c">24.0k</text>
<text x="423.04" y="284.3" transform="rotate(-90 423.04 284.3)" fill="#2a5a3a" stroke="#2a5a3a">31.8k</text>
<text x="423.04" y="302.1" transform="rotate(-90 423.04 302.1)" text-anchor="end" fill="#8a1f3c" stroke="#8a1f3c">25.9k</text>
<text x="427.66" y="279.9" transform="rotate(-90 427.66 279.9)" fill="#2a5a3a" stroke="#2a5a3a">48.7k</text>
<text x="427.66" y="304.2" transform="rotate(-90 427.66 304.2)" text-anchor="end" fill="#8a1f3c" stroke="#8a1f3c">33.9k</text>
<text x="432.29" y="276.5" transform="rotate(-90 432.29 276.5)" fill="#2a5a3a" stroke="#2a5a3a">61.3k</text>
<text x="432.29" y="302.9" transform="rotate(-90 432.29 302.9)" text-anchor="end" fill="#8a1f3c" stroke="#8a1f3c">28.1k</text>
<text x="436.91" y="268.7" transform="rotate(-90 436.91 268.7)" fill="#2a5a3a" stroke="#2a5a3a">91.1k</text>
<text x="436.91" y="310.5" transform="rotate(-90 436.91 310.5)" text-anchor="end" fill="#8a1f3c" stroke="#8a1f3c">57.2k</text>
<text x="441.54" y="278.3" transform="rotate(-90 441.54 278.3)" fill="#2a5a3a" stroke="#2a5a3a">54.2k</text>
<text x="441.54" y="310.7" transform="rotate(-90 441.54 310.7)" text-anchor="end" fill="#8a1f3c" stroke="#8a1f3c">58.4k</text>
<text x="446.16" y="279.9" transform="rotate(-90 446.16 279.9)" fill="#2a5a3a" stroke="#2a5a3a">48.4k</text>
<text x="446.16" y="309.5" transform="rotate(-90 446.16 309.5)" text-anchor="end" fill="#8a1f3c" stroke="#8a1f3c">53.6k</text>
<text x="450.79" y="283.0" transform="rotate(-90 450.79 283.0)" fill="#2a5a3a" stroke="#2a5a3a">36.9k</text>
<text x="450.79" y="309.9" transform="rotate(-90 450.79 309.9)" text-anchor="end" fill="#8a1f3c" stroke="#8a1f3c">55.3k</text>
<text x="455.41" y="280.4" transform="rotate(-90 455.41 280.4)" fill="#2a5a3a" stroke="#2a5a3a">46.3k</text>
<text x="455.41" y="305.5" transform="rotate(-90 455.41 305.5)" text-anchor="end" fill="#8a1f3c" stroke="#8a1f3c">38.2k</text>
<text x="460.04" y="273.5" transform="rotate(-90 460.04 273.5)" fill="#2a5a3a" stroke="#2a5a3a">73.0k</text>
<text x="460.04" y="301.1" transform="rotate(-90 460.04 301.1)" text-anchor="end" fill="#8a1f3c" stroke="#8a1f3c">21.7k</text>
<text x="464.66" y="283.2" transform="rotate(-90 464.66 283.2)" fill="#2a5a3a" stroke="#2a5a3a">36.0k</text>
<text x="464.66" y="302.7" transform="rotate(-90 464.66 302.7)" text-anchor="end" fill="#8a1f3c" stroke="#8a1f3c">27.7k</text>
<text x="469.29" y="281.5" transform="rotate(-90 469.29 281.5)" fill="#2a5a3a" stroke="#2a5a3a">42.0k</text>
<text x="469.29" y="301.1" transform="rotate(-90 469.29 301.1)" text-anchor="end" fill="#8a1f3c" stroke="#8a1f3c">21.8k</text>
<text x="473.91" y="284.8" transform="rotate(-90 473.91 284.8)" fill="#2a5a3a" stroke="#2a5a3a">30.0k</text>
<text x="473.91" y="302.7" transform="rotate(-90 473.91 302.7)" text-anchor="end" fill="#8a1f3c" stroke="#8a1f3c">27.5k</text>
<text x="478.54" y="278.2" transform="rotate(-90 478.54 278.2)" fill="#2a5a3a" stroke="#2a5a3a">55.1k</text>
<text x="478.54" y="305.4" transform="rotate(-90 478.54 305.4)" text-anchor="end" fill="#8a1f3c" stroke="#8a1f3c">38.4k</text>
<text x="483.16" y="284.8" transform="rotate(-90 483.16 284.8)" fill="#2a5a3a" stroke="#2a5a3a">30.0k</text>
<text x="483.16" y="301.1" transform="rotate(-90 483.16 301.1)" text-anchor="end" fill="#8a1f3c" stroke="#8a1f3c">22.0k</text>
<text x="487.79" y="286.5" transform="rotate(-90 487.79 286.5)" fill="#2a5a3a" stroke="#2a5a3a">22.8k</text>
<text x="487.79" y="301.1" transform="rotate(-90 487.79 301.1)" text-anchor="end" fill="#8a1f3c" stroke="#8a1f3c">21.8k</text>
<text x="492.41" y="235.0" transform="rotate(-90 492.41 235.0)" fill="#2a5a3a" stroke="#2a5a3a">219.9k</text>
<text x="492.41" y="299.5" transform="rotate(-90 492.41 299.5)" text-anchor="end" fill="#8a1f3c" stroke="#8a1f3c">15.2k</text>
<text x="497.04" y="288.1" transform="rotate(-90 497.04 288.1)" fill="#2a5a3a" stroke="#2a5a3a">19.5k</text>
<text x="497.04" y="305.4" transform="rotate(-90 497.04 305.4)" text-anchor="end" fill="#8a1f3c" stroke="#8a1f3c">37.9k</text>
<text x="501.66" y="264.2" transform="rotate(-90 501.66 264.2)" fill="#2a5a3a" stroke="#2a5a3a">108.1k</text>
<text x="501.66" y="301.1" transform="rotate(-90 501.66 301.1)" text-anchor="end" fill="#8a1f3c" stroke="#8a1f3c">21.7k</text>
<text x="506.29" y="253.3" transform="rotate(-90 506.29 253.3)" fill="#2a5a3a" stroke="#2a5a3a">137.2k</text>
<text x="506.29" y="299.5" transform="rotate(-90 506.29 299.5)" text-anchor="end" fill="#8a1f3c" stroke="#8a1f3c">15.9k</text>
<text x="510.91" y="286.5" transform="rotate(-90 510.91 286.5)" fill="#2a5a3a" stroke="#2a5a3a">22.2k</text>
<text x="510.91" y="298.8" transform="rotate(-90 510.91 298.8)" text-anchor="end" fill="#8a1f3c" stroke="#8a1f3c">12.6k</text>
<text x="515.54" y="251.6" transform="rotate(-90 515.54 251.6)" fill="#2a5a3a" stroke="#2a5a3a">155.9k</text>
<text x="515.54" y="298.8" transform="rotate(-90 515.54 298.8)" text-anchor="end" fill="#8a1f3c" stroke="#8a1f3c">12.7k</text>
<text x="520.16" y="276.5" transform="rotate(-90 520.16 276.5)" fill="#2a5a3a" stroke="#2a5a3a">62.0k</text>
<text x="520.16" y="298.8" transform="rotate(-90 520.16 298.8)" text-anchor="end" fill="#8a1f3c" stroke="#8a1f3c">13.4k</text>
<text x="522.39" y="240.0" transform="rotate(-90 522.39 240.0)" fill="#2a5a3a" stroke="#2a5a3a">198.4k</text>
<text x="522.39" y="298.8" transform="rotate(-90 522.39 298.8)" text-anchor="end" fill="#8a1f3c" stroke="#8a1f3c">12.6k</text>
</g>
<g font-size="7.8" fill="#6e6e6e">
<text x="21.0" y="380.8" transform="rotate(-90 21.0 380.8)" text-anchor="end" textLength="35.4" lengthAdjust="spacingAndGlyphs">A71-550-666</text>
<text x="34.8" y="380.8" transform="rotate(-90 34.8 380.8)" text-anchor="end" textLength="35.4" lengthAdjust="spacingAndGlyphs">B38-550-660</text>
<text x="48.6" y="380.8" transform="rotate(-90 48.6 380.8)" text-anchor="end" textLength="35.4" lengthAdjust="spacingAndGlyphs">B41-550-656</text>
<text x="62.3" y="380.8" transform="rotate(-90 62.3 380.8)" text-anchor="end" textLength="35.4" lengthAdjust="spacingAndGlyphs">B44-550-656</text>
<text x="76.1" y="380.8" transform="rotate(-90 76.1 380.8)" text-anchor="end" textLength="35.4" lengthAdjust="spacingAndGlyphs">B47-550-660</text>
<text x="90.4" y="380.8" transform="rotate(-90 90.4 380.8)" text-anchor="end" textLength="9.8" lengthAdjust="spacingAndGlyphs">C02</text>
<text x="104.3" y="380.8" transform="rotate(-90 104.3 380.8)" text-anchor="end" textLength="9.8" lengthAdjust="spacingAndGlyphs">C05</text>
<text x="118.2" y="380.8" transform="rotate(-90 118.2 380.8)" text-anchor="end" textLength="9.8" lengthAdjust="spacingAndGlyphs">C08</text>
<text x="132.1" y="380.8" transform="rotate(-90 132.1 380.8)" text-anchor="end" textLength="9.8" lengthAdjust="spacingAndGlyphs">C11</text>
<text x="145.9" y="380.8" transform="rotate(-90 145.9 380.8)" text-anchor="end" textLength="9.8" lengthAdjust="spacingAndGlyphs">C14</text>
<text x="159.8" y="380.8" transform="rotate(-90 159.8 380.8)" text-anchor="end" textLength="9.8" lengthAdjust="spacingAndGlyphs">C17</text>
<text x="173.7" y="380.8" transform="rotate(-90 173.7 380.8)" text-anchor="end" textLength="9.8" lengthAdjust="spacingAndGlyphs">C20</text>
<text x="187.6" y="380.8" transform="rotate(-90 187.6 380.8)" text-anchor="end" textLength="9.8" lengthAdjust="spacingAndGlyphs">C23</text>
<text x="201.4" y="380.8" transform="rotate(-90 201.4 380.8)" text-anchor="end" textLength="9.8" lengthAdjust="spacingAndGlyphs">C26</text>
<text x="215.3" y="380.8" transform="rotate(-90 215.3 380.8)" text-anchor="end" textLength="9.8" lengthAdjust="spacingAndGlyphs">C29</text>
<text x="229.2" y="380.8" transform="rotate(-90 229.2 380.8)" text-anchor="end" textLength="9.8" lengthAdjust="spacingAndGlyphs">C32</text>
<text x="243.1" y="380.8" transform="rotate(-90 243.1 380.8)" text-anchor="end" textLength="9.8" lengthAdjust="spacingAndGlyphs">C35</text>
<text x="256.9" y="380.8" transform="rotate(-90 256.9 380.8)" text-anchor="end" textLength="9.8" lengthAdjust="spacingAndGlyphs">C38</text>
<text x="270.8" y="380.8" transform="rotate(-90 270.8 380.8)" text-anchor="end" textLength="9.8" lengthAdjust="spacingAndGlyphs">C41</text>
<text x="284.7" y="380.8" transform="rotate(-90 284.7 380.8)" text-anchor="end" textLength="9.8" lengthAdjust="spacingAndGlyphs">C44</text>
<text x="298.6" y="380.8" transform="rotate(-90 298.6 380.8)" text-anchor="end" textLength="9.8" lengthAdjust="spacingAndGlyphs">C47</text>
<text x="312.4" y="380.8" transform="rotate(-90 312.4 380.8)" text-anchor="end" textLength="9.8" lengthAdjust="spacingAndGlyphs">C50</text>
<text x="326.3" y="380.8" transform="rotate(-90 326.3 380.8)" text-anchor="end" textLength="9.8" lengthAdjust="spacingAndGlyphs">C53</text>
<text x="340.2" y="380.8" transform="rotate(-90 340.2 380.8)" text-anchor="end" textLength="9.8" lengthAdjust="spacingAndGlyphs">C56</text>
<text x="354.1" y="380.8" transform="rotate(-90 354.1 380.8)" text-anchor="end" textLength="9.8" lengthAdjust="spacingAndGlyphs">C59</text>
<text x="367.9" y="380.8" transform="rotate(-90 367.9 380.8)" text-anchor="end" textLength="9.8" lengthAdjust="spacingAndGlyphs">C62</text>
<text x="381.8" y="380.8" transform="rotate(-90 381.8 380.8)" text-anchor="end" textLength="9.8" lengthAdjust="spacingAndGlyphs">C65</text>
<text x="395.7" y="380.8" transform="rotate(-90 395.7 380.8)" text-anchor="end" textLength="9.8" lengthAdjust="spacingAndGlyphs">C68</text>
<text x="409.6" y="380.8" transform="rotate(-90 409.6 380.8)" text-anchor="end" textLength="9.8" lengthAdjust="spacingAndGlyphs">C71</text>
<text x="423.4" y="380.8" transform="rotate(-90 423.4 380.8)" text-anchor="end" textLength="9.8" lengthAdjust="spacingAndGlyphs">C74</text>
<text x="437.3" y="380.8" transform="rotate(-90 437.3 380.8)" text-anchor="end" textLength="9.8" lengthAdjust="spacingAndGlyphs">C77</text>
<text x="451.2" y="380.8" transform="rotate(-90 451.2 380.8)" text-anchor="end" textLength="9.8" lengthAdjust="spacingAndGlyphs">C80</text>
<text x="465.1" y="380.8" transform="rotate(-90 465.1 380.8)" text-anchor="end" textLength="9.8" lengthAdjust="spacingAndGlyphs">C83</text>
<text x="478.9" y="380.8" transform="rotate(-90 478.9 380.8)" text-anchor="end" textLength="9.8" lengthAdjust="spacingAndGlyphs">C86</text>
<text x="492.8" y="380.8" transform="rotate(-90 492.8 380.8)" text-anchor="end" textLength="9.8" lengthAdjust="spacingAndGlyphs">C89</text>
<text x="506.7" y="380.8" transform="rotate(-90 506.7 380.8)" text-anchor="end" textLength="9.8" lengthAdjust="spacingAndGlyphs">C92</text>
<text x="520.6" y="380.8" transform="rotate(-90 520.6 380.8)" text-anchor="end" textLength="9.8" lengthAdjust="spacingAndGlyphs">C95</text>
</g>
</svg>

<div class="abs" style="left:535px;top:24px;width:291px;height:368px;overflow:hidden">
<svg width="291" height="368" viewBox="535 24 291 368">
<defs><filter id="fDense" x="0" y="0" width="100%" height="100%" color-interpolation-filters="sRGB"><feTurbulence type="fractalNoise" baseFrequency="0.05 0.19" numOctaves="2" seed="4"/><feColorMatrix type="matrix" values="1 0 0 0 0 1 0 0 0 0 1 0 0 0 0 0 0 0 0 1"/><feComponentTransfer><feFuncR type="discrete" tableValues="0.11 0.11 0.11 0.11 0.11 0.11 0.11 0.11 0.11 0.11 0.11 0.11 0.11 0.11 0.11 0.11 0.11 0.11 0.11 0.11 0.11 0.11 0.11 0.11 0.11 0.11 0.11 0.11 0.11 0.11 0.11 0.11 0.11 0.11 0.11 0.11 0.11 0.11 0.11 0.561 0.902 0.902 0.847 0.847 0.62 0.62 0.62 0.62 0.62 0.62 0.62 0.62 0.62 0.62 0.62 0.62 0.62 0.62 0.62 0.62 0.62 0.62 0.62 0.62 0.62 0.62 0.62 0.62 0.62 0.62 0.62 0.62 0.62 0.62 0.62 0.62 0.62 0.62 0.62 0.62"/><feFuncG type="discrete" tableValues="0.427 0.427 0.427 0.427 0.427 0.427 0.427 0.427 0.427 0.427 0.427 0.427 0.427 0.427 0.427 0.427 0.427 0.427 0.427 0.427 0.427 0.427 0.427 0.427 0.427 0.427 0.427 0.427 0.427 0.427 0.427 0.427 0.427 0.427 0.427 0.427 0.427 0.427 0.427 0.769 0.796 0.796 0.541 0.541 0.118 0.118 0.118 0.118 0.118 0.118 0.118 0.118 0.118 0.118 0.118 0.118 0.118 0.118 0.118 0.118 0.118 0.118 0.118 0.118 0.118 0.118 0.118 0.118 0.118 0.118 0.118 0.118 0.118 0.118 0.118 0.118 0.118 0.118 0.118 0.118"/><feFuncB type="discrete" tableValues="0.235 0.235 0.235 0.235 0.235 0.235 0.235 0.235 0.235 0.235 0.235 0.235 0.235 0.235 0.235 0.235 0.235 0.235 0.235 0.235 0.235 0.235 0.235 0.235 0.235 0.235 0.235 0.235 0.235 0.235 0.235 0.235 0.235 0.235 0.235 0.235 0.235 0.235 0.235 0.643 0.769 0.769 0.549 0.549 0.22 0.22 0.22 0.22 0.22 0.22 0.22 0.22 0.22 0.22 0.22 0.22 0.22 0.22 0.22 0.22 0.22 0.22 0.22 0.22 0.22 0.22 0.22 0.22 0.22 0.22 0.22 0.22 0.22 0.22 0.22 0.22 0.22 0.22 0.22 0.22"/><feFuncA type="discrete" tableValues="1"/></feComponentTransfer><feGaussianBlur stdDeviation="0.6"/></filter>
<filter id="fDense2" x="0" y="0" width="100%" height="100%" color-interpolation-filters="sRGB"><feTurbulence type="fractalNoise" baseFrequency="0.09 0.25" numOctaves="2" seed="9"/><feColorMatrix type="matrix" values="1 0 0 0 0 1 0 0 0 0 1 0 0 0 0 0 0 0 0 1"/><feComponentTransfer><feFuncR type="discrete" tableValues="0.11 0.11 0.11 0.11 0.11 0.11 0.11 0.11 0.11 0.11 0.11 0.11 0.11 0.11 0.11 0.11 0.11 0.11 0.11 0.11 0.11 0.11 0.11 0.11 0.11 0.11 0.11 0.11 0.11 0.11 0.11 0.11 0.11 0.11 0.11 0.11 0.561 0.561 0.902 0.902 0.902 0.902 0.847 0.847 0.62 0.62 0.62 0.62 0.62 0.62 0.62 0.62 0.62 0.62 0.62 0.62 0.62 0.62 0.62 0.62 0.62 0.62 0.62 0.62 0.62 0.62 0.62 0.62 0.62 0.62 0.62 0.62 0.62 0.62 0.62 0.62 0.62 0.62 0.62 0.62"/><feFuncG type="discrete" tableValues="0.427 0.427 0.427 0.427 0.427 0.427 0.427 0.427 0.427 0.427 0.427 0.427 0.427 0.427 0.427 0.427 0.427 0.427 0.427 0.427 0.427 0.427 0.427 0.427 0.427 0.427 0.427 0.427 0.427 0.427 0.427 0.427 0.427 0.427 0.427 0.427 0.769 0.769 0.796 0.796 0.796 0.796 0.541 0.541 0.118 0.118 0.118 0.118 0.118 0.118 0.118 0.118 0.118 0.118 0.118 0.118 0.118 0.118 0.118 0.118 0.118 0.118 0.118 0.118 0.118 0.118 0.118 0.118 0.118 0.118 0.118 0.118 0.118 0.118 0.118 0.118 0.118 0.118 0.118 0.118"/><feFuncB type="discrete" tableValues="0.235 0.235 0.235 0.235 0.235 0.235 0.235 0.235 0.235 0.235 0.235 0.235 0.235 0.235 0.235 0.235 0.235 0.235 0.235 0.235 0.235 0.235 0.235 0.235 0.235 0.235 0.235 0.235 0.235 0.235 0.235 0.235 0.235 0.235 0.235 0.235 0.643 0.643 0.769 0.769 0.769 0.769 0.549 0.549 0.22 0.22 0.22 0.22 0.22 0.22 0.22 0.22 0.22 0.22 0.22 0.22 0.22 0.22 0.22 0.22 0.22 0.22 0.22 0.22 0.22 0.22 0.22 0.22 0.22 0.22 0.22 0.22 0.22 0.22 0.22 0.22 0.22 0.22 0.22 0.22"/><feFuncA type="discrete" tableValues="1"/></feComponentTransfer><feGaussianBlur stdDeviation="0.6"/></filter>
<filter id="fTopR" x="0" y="0" width="100%" height="100%" color-interpolation-filters="sRGB"><feTurbulence type="fractalNoise" baseFrequency="0.065 0.19" numOctaves="2" seed="7"/><feColorMatrix type="matrix" values="1 0 0 0 0 1 0 0 0 0 1 0 0 0 0 0 0 0 0 1"/><feComponentTransfer><feFuncR type="discrete" tableValues="0.118 0.118 0.118 0.118 0.118 0.118 0.118 0.118 0.118 0.118 0.118 0.118 0.118 0.118 0.118 0.118 0.118 0.118 0.118 0.118 0.118 0.118 0.118 0.118 0.118 0.118 0.118 0.118 0.118 0.118 0.118 0.118 0.118 0.118 0.561 0.561 0.91 0.91 0.91 0.91 0.91 0.89 0.89 0.89 0.89 0.89 0.651 0.651 0.651 0.651 0.651 0.651 0.651 0.651 0.651 0.651 0.651 0.651 0.651 0.651 0.651 0.651 0.651 0.651 0.651 0.651 0.651 0.651 0.651 0.651 0.651 0.651 0.651 0.651 0.651 0.651 0.651 0.651 0.651 0.651"/><feFuncG type="discrete" tableValues="0.439 0.439 0.439 0.439 0.439 0.439 0.439 0.439 0.439 0.439 0.439 0.439 0.439 0.439 0.439 0.439 0.439 0.439 0.439 0.439 0.439 0.439 0.439 0.439 0.439 0.439 0.439 0.439 0.439 0.439 0.439 0.439 0.439 0.439 0.769 0.769 0.816 0.816 0.816 0.816 0.816 0.604 0.604 0.604 0.604 0.604 0.125 0.125 0.125 0.125 0.125 0.125 0.125 0.125 0.125 0.125 0.125 0.125 0.125 0.125 0.125 0.125 0.125 0.125 0.125 0.125 0.125 0.125 0.125 0.125 0.125 0.125 0.125 0.125 0.125 0.125 0.125 0.125 0.125 0.125"/><feFuncB type="discrete" tableValues="0.251 0.251 0.251 0.251 0.251 0.251 0.251 0.251 0.251 0.251 0.251 0.251 0.251 0.251 0.251 0.251 0.251 0.251 0.251 0.251 0.251 0.251 0.251 0.251 0.251 0.251 0.251 0.251 0.251 0.251 0.251 0.251 0.251 0.251 0.643 0.643 0.784 0.784 0.784 0.784 0.784 0.541 0.541 0.541 0.541 0.541 0.224 0.224 0.224 0.224 0.224 0.224 0.224 0.224 0.224 0.224 0.224 0.224 0.224 0.224 0.224 0.224 0.224 0.224 0.224 0.224 0.224 0.224 0.224 0.224 0.224 0.224 0.224 0.224 0.224 0.224 0.224 0.224 0.224 0.224"/><feFuncA type="discrete" tableValues="1"/></feComponentTransfer><feGaussianBlur stdDeviation="0.6"/></filter>
<filter id="fTopL" x="0" y="0" width="100%" height="100%" color-interpolation-filters="sRGB"><feTurbulence type="fractalNoise" baseFrequency="0.06 0.1" numOctaves="3" seed="2"/><feColorMatrix type="matrix" values="1 0 0 0 0 1 0 0 0 0 1 0 0 0 0 0 0 0 0 1"/><feComponentTransfer><feFuncR type="discrete" tableValues="0.69 0.69 0.69 0.69 0.69 0.69 0.69 0.69 0.69 0.69 0.69 0.69 0.69 0.69 0.69 0.69 0.69 0.69 0.69 0.69 0.69 0.69 0.898 0.898 0.898 0.898 0.898 0.898 0.933 0.933 0.933 0.933 0.933 0.933 0.933 0.663 0.663 0.663 0.663 0.663 0.663 0.663 0.663 0.353 0.353 0.353 0.353 0.353 0.353 0.353 0.165 0.165 0.165 0.165 0.165 0.165 0.165 0.165 0.165 0.165 0.165 0.165 0.165 0.165 0.165 0.165 0.165 0.165 0.165 0.165 0.165 0.165 0.165 0.165 0.165 0.165 0.165 0.165 0.165 0.165"/><feFuncG type="discrete" tableValues="0.149 0.149 0.149 0.149 0.149 0.149 0.149 0.149 0.149 0.149 0.149 0.149 0.149 0.149 0.149 0.149 0.149 0.149 0.149 0.149 0.149 0.149 0.6 0.6 0.6 0.6 0.6 0.6 0.863 0.863 0.863 0.863 0.863 0.863 0.863 0.827 0.827 0.827 0.827 0.827 0.827 0.827 0.827 0.659 0.659 0.659 0.659 0.659 0.659 0.659 0.518 0.518 0.518 0.518 0.518 0.518 0.518 0.518 0.518 0.518 0.518 0.518 0.518 0.518 0.518 0.518 0.518 0.518 0.518 0.518 0.518 0.518 0.518 0.518 0.518 0.518 0.518 0.518 0.518 0.518"/><feFuncB type="discrete" tableValues="0.243 0.243 0.243 0.243 0.243 0.243 0.243 0.243 0.243 0.243 0.243 0.243 0.243 0.243 0.243 0.243 0.243 0.243 0.243 0.243 0.243 0.243 0.541 0.541 0.541 0.541 0.541 0.541 0.831 0.831 0.831 0.831 0.831 0.831 0.831 0.729 0.729 0.729 0.729 0.729 0.729 0.729 0.729 0.471 0.471 0.471 0.471 0.471 0.471 0.471 0.314 0.314 0.314 0.314 0.314 0.314 0.314 0.314 0.314 0.314 0.314 0.314 0.314 0.314 0.314 0.314 0.314 0.314 0.314 0.314 0.314 0.314 0.314 0.314 0.314 0.314 0.314 0.314 0.314 0.314"/><feFuncA type="discrete" tableValues="1"/></feComponentTransfer><feGaussianBlur stdDeviation="0.6"/></filter>
<filter id="fMint" x="0" y="0" width="100%" height="100%" color-interpolation-filters="sRGB"><feTurbulence type="fractalNoise" baseFrequency="0.15 0.05" numOctaves="3" seed="5"/><feColorMatrix type="matrix" values="1 0 0 0 0 1 0 0 0 0 1 0 0 0 0 0 0 0 0 1"/><feComponentTransfer><feFuncR type="discrete" tableValues="0.902 0.902 0.902 0.902 0.902 0.902 0.902 0.902 0.902 0.902 0.902 0.902 0.902 0.902 0.902 0.902 0.902 0.902 0.902 0.902 0.902 0.902 0.902 0.902 0.902 0.902 0.902 0.902 0.902 0.902 0.902 0.902 0.902 0.902 0.678 0.678 0.678 0.678 0.678 0.678 0.678 0.678 0.678 0.678 0.678 0.678 0.678 0.678 0.678 0.678 0.678 0.678 0.678 0.678 0.678 0.678 0.678 0.678 0.678 0.678 0.678 0.678 0.678 0.678 0.678 0.678 0.678 0.678 0.678 0.678 0.678 0.678 0.678 0.678 0.678 0.678 0.678 0.678 0.678 0.678"/><feFuncG type="discrete" tableValues="0.925 0.925 0.925 0.925 0.925 0.925 0.925 0.925 0.925 0.925 0.925 0.925 0.925 0.925 0.925 0.925 0.925 0.925 0.925 0.925 0.925 0.925 0.925 0.925 0.925 0.925 0.925 0.925 0.925 0.925 0.925 0.925 0.925 0.925 0.827 0.827 0.827 0.827 0.827 0.827 0.827 0.827 0.827 0.827 0.827 0.827 0.827 0.827 0.827 0.827 0.827 0.827 0.827 0.827 0.827 0.827 0.827 0.827 0.827 0.827 0.827 0.827 0.827 0.827 0.827 0.827 0.827 0.827 0.827 0.827 0.827 0.827 0.827 0.827 0.827 0.827 0.827 0.827 0.827 0.827"/><feFuncB type="discrete" tableValues="0.91 0.91 0.91 0.91 0.91 0.91 0.91 0.91 0.91 0.91 0.91 0.91 0.91 0.91 0.91 0.91 0.91 0.91 0.91 0.91 0.91 0.91 0.91 0.91 0.91 0.91 0.91 0.91 0.91 0.91 0.91 0.91 0.91 0.91 0.745 0.745 0.745 0.745 0.745 0.745 0.745 0.745 0.745 0.745 0.745 0.745 0.745 0.745 0.745 0.745 0.745 0.745 0.745 0.745 0.745 0.745 0.745 0.745 0.745 0.745 0.745 0.745 0.745 0.745 0.745 0.745 0.745 0.745 0.745 0.745 0.745 0.745 0.745 0.745 0.745 0.745 0.745 0.745 0.745 0.745"/><feFuncA type="discrete" tableValues="1"/></feComponentTransfer><feGaussianBlur stdDeviation="0.6"/></filter>
<filter id="fMintS" x="0" y="0" width="100%" height="100%" color-interpolation-filters="sRGB"><feTurbulence type="fractalNoise" baseFrequency="0.09 0.06" numOctaves="3" seed="15"/><feColorMatrix type="matrix" values="1 0 0 0 0 1 0 0 0 0 1 0 0 0 0 0 0 0 0 1"/><feComponentTransfer><feFuncR type="discrete" tableValues="0.886 0.886 0.886 0.886 0.886 0.886 0.886 0.886 0.886 0.886 0.886 0.886 0.886 0.886 0.886 0.886 0.886 0.886 0.886 0.886 0.886 0.886 0.886 0.886 0.663 0.663 0.663 0.663 0.663 0.663 0.663 0.663 0.663 0.663 0.663 0.663 0.663 0.663 0.663 0.663 0.663 0.663 0.663 0.663 0.663 0.663 0.663 0.663 0.663 0.663 0.663 0.663 0.663 0.663 0.663 0.663 0.663 0.663 0.663 0.663 0.663 0.663 0.663 0.663 0.663 0.663 0.663 0.663 0.663 0.663 0.663 0.663 0.663 0.663 0.663 0.663 0.663 0.663 0.663 0.663"/><feFuncG type="discrete" tableValues="0.922 0.922 0.922 0.922 0.922 0.922 0.922 0.922 0.922 0.922 0.922 0.922 0.922 0.922 0.922 0.922 0.922 0.922 0.922 0.922 0.922 0.922 0.922 0.922 0.816 0.816 0.816 0.816 0.816 0.816 0.816 0.816 0.816 0.816 0.816 0.816 0.816 0.816 0.816 0.816 0.816 0.816 0.816 0.816 0.816 0.816 0.816 0.816 0.816 0.816 0.816 0.816 0.816 0.816 0.816 0.816 0.816 0.816 0.816 0.816 0.816 0.816 0.816 0.816 0.816 0.816 0.816 0.816 0.816 0.816 0.816 0.816 0.816 0.816 0.816 0.816 0.816 0.816 0.816 0.816"/><feFuncB type="discrete" tableValues="0.898 0.898 0.898 0.898 0.898 0.898 0.898 0.898 0.898 0.898 0.898 0.898 0.898 0.898 0.898 0.898 0.898 0.898 0.898 0.898 0.898 0.898 0.898 0.898 0.729 0.729 0.729 0.729 0.729 0.729 0.729 0.729 0.729 0.729 0.729 0.729 0.729 0.729 0.729 0.729 0.729 0.729 0.729 0.729 0.729 0.729 0.729 0.729 0.729 0.729 0.729 0.729 0.729 0.729 0.729 0.729 0.729 0.729 0.729 0.729 0.729 0.729 0.729 0.729 0.729 0.729 0.729 0.729 0.729 0.729 0.729 0.729 0.729 0.729 0.729 0.729 0.729 0.729 0.729 0.729"/><feFuncA type="discrete" tableValues="1"/></feComponentTransfer><feGaussianBlur stdDeviation="0.6"/></filter>
<filter id="fMintT" x="0" y="0" width="100%" height="100%" color-interpolation-filters="sRGB"><feTurbulence type="fractalNoise" baseFrequency="0.15 0.05" numOctaves="3" seed="6"/><feColorMatrix type="matrix" values="1 0 0 0 0 1 0 0 0 0 1 0 0 0 0 0 0 0 0 1"/><feComponentTransfer><feFuncR type="discrete" tableValues="0.902 0.902 0.902 0.902 0.902 0.902 0.902 0.902 0.902 0.902 0.902 0.902 0.902 0.902 0.902 0.902 0.902 0.902 0.902 0.902 0.902 0.902 0.902 0.902 0.902 0.902 0.902 0.902 0.902 0.902 0.902 0.902 0.902 0.902 0.902 0.902 0.902 0.902 0.902 0.902 0.902 0.902 0.902 0.702 0.702 0.702 0.702 0.702 0.702 0.702 0.702 0.702 0.702 0.702 0.702 0.702 0.702 0.702 0.702 0.702 0.702 0.702 0.702 0.702 0.702 0.702 0.702 0.702 0.702 0.702 0.702 0.702 0.702 0.702 0.702 0.702 0.702 0.702 0.702 0.702"/><feFuncG type="discrete" tableValues="0.925 0.925 0.925 0.925 0.925 0.925 0.925 0.925 0.925 0.925 0.925 0.925 0.925 0.925 0.925 0.925 0.925 0.925 0.925 0.925 0.925 0.925 0.925 0.925 0.925 0.925 0.925 0.925 0.925 0.925 0.925 0.925 0.925 0.925 0.925 0.925 0.925 0.925 0.925 0.925 0.925 0.925 0.925 0.839 0.839 0.839 0.839 0.839 0.839 0.839 0.839 0.839 0.839 0.839 0.839 0.839 0.839 0.839 0.839 0.839 0.839 0.839 0.839 0.839 0.839 0.839 0.839 0.839 0.839 0.839 0.839 0.839 0.839 0.839 0.839 0.839 0.839 0.839 0.839 0.839"/><feFuncB type="discrete" tableValues="0.91 0.91 0.91 0.91 0.91 0.91 0.91 0.91 0.91 0.91 0.91 0.91 0.91 0.91 0.91 0.91 0.91 0.91 0.91 0.91 0.91 0.91 0.91 0.91 0.91 0.91 0.91 0.91 0.91 0.91 0.91 0.91 0.91 0.91 0.91 0.91 0.91 0.91 0.91 0.91 0.91 0.91 0.91 0.761 0.761 0.761 0.761 0.761 0.761 0.761 0.761 0.761 0.761 0.761 0.761 0.761 0.761 0.761 0.761 0.761 0.761 0.761 0.761 0.761 0.761 0.761 0.761 0.761 0.761 0.761 0.761 0.761 0.761 0.761 0.761 0.761 0.761 0.761 0.761 0.761"/><feFuncA type="discrete" tableValues="1"/></feComponentTransfer><feGaussianBlur stdDeviation="0.6"/></filter>
<filter id="fSal" x="0" y="0" width="100%" height="100%" color-interpolation-filters="sRGB"><feTurbulence type="fractalNoise" baseFrequency="0.08 0.08" numOctaves="3" seed="3"/><feColorMatrix type="matrix" values="1 0 0 0 0 1 0 0 0 0 1 0 0 0 0 0 0 0 0 1"/><feComponentTransfer><feFuncR type="discrete" tableValues="0.949 0.949 0.949 0.949 0.949 0.949 0.949 0.949 0.949 0.949 0.949 0.949 0.949 0.949 0.949 0.949 0.949 0.949 0.949 0.949 0.949 0.949 0.949 0.949 0.949 0.949 0.949 0.949 0.949 0.949 0.906 0.906 0.906 0.906 0.906 0.906 0.906 0.906 0.906 0.906 0.906 0.906 0.906 0.906 0.906 0.906 0.906 0.906 0.906 0.906 0.906 0.906 0.906 0.906 0.816 0.816 0.816 0.816 0.702 0.702 0.702 0.702 0.702 0.702 0.702 0.702 0.702 0.702 0.702 0.702 0.702 0.702 0.702 0.702 0.702 0.702 0.702 0.702 0.702 0.702"/><feFuncG type="discrete" tableValues="0.851 0.851 0.851 0.851 0.851 0.851 0.851 0.851 0.851 0.851 0.851 0.851 0.851 0.851 0.851 0.851 0.851 0.851 0.851 0.851 0.851 0.851 0.851 0.851 0.851 0.851 0.851 0.851 0.851 0.851 0.647 0.647 0.647 0.647 0.647 0.647 0.647 0.647 0.647 0.647 0.647 0.647 0.647 0.647 0.647 0.647 0.647 0.647 0.647 0.647 0.647 0.647 0.647 0.647 0.439 0.439 0.439 0.439 0.149 0.149 0.149 0.149 0.149 0.149 0.149 0.149 0.149 0.149 0.149 0.149 0.149 0.149 0.149 0.149 0.149 0.149 0.149 0.149 0.149 0.149"/><feFuncB type="discrete" tableValues="0.82 0.82 0.82 0.82 0.82 0.82 0.82 0.82 0.82 0.82 0.82 0.82 0.82 0.82 0.82 0.82 0.82 0.82 0.82 0.82 0.82 0.82 0.82 0.82 0.82 0.82 0.82 0.82 0.82 0.82 0.576 0.576 0.576 0.576 0.576 0.576 0.576 0.576 0.576 0.576 0.576 0.576 0.576 0.576 0.576 0.576 0.576 0.576 0.576 0.576 0.576 0.576 0.576 0.576 0.478 0.478 0.478 0.478 0.235 0.235 0.235 0.235 0.235 0.235 0.235 0.235 0.235 0.235 0.235 0.235 0.235 0.235 0.235 0.235 0.235 0.235 0.235 0.235 0.235 0.235"/><feFuncA type="discrete" tableValues="1"/></feComponentTransfer><feGaussianBlur stdDeviation="0.6"/></filter>
<filter id="fDash" x="0" y="0" width="100%" height="100%" color-interpolation-filters="sRGB"><feTurbulence type="fractalNoise" baseFrequency="0.1 0.3" numOctaves="2" seed="8"/><feColorMatrix type="matrix" values="1 0 0 0 0 1 0 0 0 0 1 0 0 0 0 0 0 0 0 1"/><feComponentTransfer><feFuncR type="discrete" tableValues="0.133 0.133 0.133 0.133 0.133 0.133 0.133 0.133 0.133 0.133 0.133 0.133 0.133 0.133 0.133 0.133 0.133 0.133 0.133 0.133 0.133 0.133 0.133 0.133 0.133 0.133 0.133 0.133 0.133 0.133 0.133 0.133 0.133 0.133 0.561 0.561 0.561 0.922 0.922 0.922 0.922 0.922 0.922 0.851 0.851 0.851 0.659 0.659 0.659 0.659 0.659 0.659 0.659 0.659 0.659 0.659 0.659 0.659 0.659 0.659 0.659 0.659 0.659 0.659 0.659 0.659 0.659 0.659 0.659 0.659 0.659 0.659 0.659 0.659 0.659 0.659 0.659 0.659 0.659 0.659"/><feFuncG type="discrete" tableValues="0.502 0.502 0.502 0.502 0.502 0.502 0.502 0.502 0.502 0.502 0.502 0.502 0.502 0.502 0.502 0.502 0.502 0.502 0.502 0.502 0.502 0.502 0.502 0.502 0.502 0.502 0.502 0.502 0.502 0.502 0.502 0.502 0.502 0.502 0.78 0.78 0.78 0.792 0.792 0.792 0.792 0.792 0.792 0.541 0.541 0.541 0.133 0.133 0.133 0.133 0.133 0.133 0.133 0.133 0.133 0.133 0.133 0.133 0.133 0.133 0.133 0.133 0.133 0.133 0.133 0.133 0.133 0.133 0.133 0.133 0.133 0.133 0.133 0.133 0.133 0.133 0.133 0.133 0.133 0.133"/><feFuncB type="discrete" tableValues="0.29 0.29 0.29 0.29 0.29 0.29 0.29 0.29 0.29 0.29 0.29 0.29 0.29 0.29 0.29 0.29 0.29 0.29 0.29 0.29 0.29 0.29 0.29 0.29 0.29 0.29 0.29 0.29 0.29 0.29 0.29 0.29 0.29 0.29 0.651 0.651 0.651 0.753 0.753 0.753 0.753 0.753 0.753 0.533 0.533 0.533 0.227 0.227 0.227 0.227 0.227 0.227 0.227 0.227 0.227 0.227 0.227 0.227 0.227 0.227 0.227 0.227 0.227 0.227 0.227 0.227 0.227 0.227 0.227 0.227 0.227 0.227 0.227 0.227 0.227 0.227 0.227 0.227 0.227 0.227"/><feFuncA type="discrete" tableValues="1"/></feComponentTransfer><feGaussianBlur stdDeviation="0.6"/></filter>
<filter id="fMintP" x="0" y="0" width="100%" height="100%" color-interpolation-filters="sRGB"><feTurbulence type="fractalNoise" baseFrequency="0.15 0.05" numOctaves="3" seed="21"/><feColorMatrix type="matrix" values="1 0 0 0 0 1 0 0 0 0 1 0 0 0 0 0 0 0 0 1"/><feComponentTransfer><feFuncR type="discrete" tableValues="0.937 0.937 0.937 0.937 0.937 0.937 0.937 0.937 0.937 0.937 0.937 0.937 0.937 0.937 0.937 0.937 0.937 0.937 0.937 0.937 0.937 0.937 0.937 0.937 0.937 0.937 0.937 0.937 0.937 0.937 0.937 0.937 0.937 0.937 0.937 0.937 0.937 0.937 0.937 0.937 0.937 0.937 0.725 0.725 0.725 0.725 0.725 0.725 0.725 0.725 0.725 0.725 0.725 0.725 0.725 0.725 0.725 0.725 0.725 0.725 0.725 0.725 0.725 0.725 0.725 0.725 0.725 0.725 0.725 0.725 0.725 0.725 0.725 0.725 0.725 0.725 0.725 0.725 0.725 0.725"/><feFuncG type="discrete" tableValues="0.902 0.902 0.902 0.902 0.902 0.902 0.902 0.902 0.902 0.902 0.902 0.902 0.902 0.902 0.902 0.902 0.902 0.902 0.902 0.902 0.902 0.902 0.902 0.902 0.902 0.902 0.902 0.902 0.902 0.902 0.902 0.902 0.902 0.902 0.902 0.902 0.902 0.902 0.902 0.902 0.902 0.902 0.851 0.851 0.851 0.851 0.851 0.851 0.851 0.851 0.851 0.851 0.851 0.851 0.851 0.851 0.851 0.851 0.851 0.851 0.851 0.851 0.851 0.851 0.851 0.851 0.851 0.851 0.851 0.851 0.851 0.851 0.851 0.851 0.851 0.851 0.851 0.851 0.851 0.851"/><feFuncB type="discrete" tableValues="0.886 0.886 0.886 0.886 0.886 0.886 0.886 0.886 0.886 0.886 0.886 0.886 0.886 0.886 0.886 0.886 0.886 0.886 0.886 0.886 0.886 0.886 0.886 0.886 0.886 0.886 0.886 0.886 0.886 0.886 0.886 0.886 0.886 0.886 0.886 0.886 0.886 0.886 0.886 0.886 0.886 0.886 0.776 0.776 0.776 0.776 0.776 0.776 0.776 0.776 0.776 0.776 0.776 0.776 0.776 0.776 0.776 0.776 0.776 0.776 0.776 0.776 0.776 0.776 0.776 0.776 0.776 0.776 0.776 0.776 0.776 0.776 0.776 0.776 0.776 0.776 0.776 0.776 0.776 0.776"/><feFuncA type="discrete" tableValues="1"/></feComponentTransfer><feGaussianBlur stdDeviation="0.6"/></filter>
<filter id="fRed" x="0" y="0" width="100%" height="100%" color-interpolation-filters="sRGB"><feTurbulence type="fractalNoise" baseFrequency="0.045 0.06" numOctaves="3" seed="12"/><feColorMatrix type="matrix" values="1 0 0 0 0 1 0 0 0 0 1 0 0 0 0 0 0 0 0 1"/><feComponentTransfer><feFuncR type="discrete" tableValues="0.89 0.89 0.89 0.89 0.89 0.89 0.89 0.89 0.89 0.89 0.89 0.89 0.89 0.89 0.89 0.89 0.89 0.89 0.89 0.89 0.89 0.89 0.89 0.89 0.89 0.89 0.784 0.784 0.784 0.784 0.784 0.784 0.784 0.784 0.639 0.639 0.639 0.639 0.639 0.639 0.639 0.639 0.639 0.639 0.639 0.639 0.639 0.639 0.639 0.639 0.639 0.639 0.639 0.639 0.639 0.639 0.639 0.639 0.639 0.639 0.639 0.639 0.639 0.639 0.639 0.639 0.639 0.639 0.639 0.639 0.639 0.639 0.639 0.639 0.639 0.639 0.639 0.639 0.639 0.639"/><feFuncG type="discrete" tableValues="0.643 0.643 0.643 0.643 0.643 0.643 0.643 0.643 0.643 0.643 0.643 0.643 0.643 0.643 0.643 0.643 0.643 0.643 0.643 0.643 0.643 0.643 0.643 0.643 0.643 0.643 0.314 0.314 0.314 0.314 0.314 0.314 0.314 0.314 0.125 0.125 0.125 0.125 0.125 0.125 0.125 0.125 0.125 0.125 0.125 0.125 0.125 0.125 0.125 0.125 0.125 0.125 0.125 0.125 0.125 0.125 0.125 0.125 0.125 0.125 0.125 0.125 0.125 0.125 0.125 0.125 0.125 0.125 0.125 0.125 0.125 0.125 0.125 0.125 0.125 0.125 0.125 0.125 0.125 0.125"/><feFuncB type="discrete" tableValues="0.588 0.588 0.588 0.588 0.588 0.588 0.588 0.588 0.588 0.588 0.588 0.588 0.588 0.588 0.588 0.588 0.588 0.588 0.588 0.588 0.588 0.588 0.588 0.588 0.588 0.588 0.353 0.353 0.353 0.353 0.353 0.353 0.353 0.353 0.227 0.227 0.227 0.227 0.227 0.227 0.227 0.227 0.227 0.227 0.227 0.227 0.227 0.227 0.227 0.227 0.227 0.227 0.227 0.227 0.227 0.227 0.227 0.227 0.227 0.227 0.227 0.227 0.227 0.227 0.227 0.227 0.227 0.227 0.227 0.227 0.227 0.227 0.227 0.227 0.227 0.227 0.227 0.227 0.227 0.227"/><feFuncA type="discrete" tableValues="1"/></feComponentTransfer><feGaussianBlur stdDeviation="0.6"/></filter>
<filter id="fRedBlk" x="0" y="0" width="100%" height="100%" color-interpolation-filters="sRGB"><feTurbulence type="fractalNoise" baseFrequency="0.06 0.06" numOctaves="2" seed="13"/><feColorMatrix type="matrix" values="1 0 0 0 0 1 0 0 0 0 1 0 0 0 0 0 0 0 0 1"/><feComponentTransfer><feFuncR type="discrete" tableValues="0.722 0.722 0.722 0.722 0.722 0.722 0.722 0.722 0.722 0.722 0.722 0.722 0.722 0.722 0.722 0.722 0.722 0.722 0.722 0.722 0.722 0.722 0.722 0.722 0.722 0.722 0.722 0.722 0.722 0.722 0.722 0.722 0.722 0.722 0.631 0.631 0.631 0.631 0.631 0.631 0.631 0.631 0.631 0.631 0.631 0.631 0.631 0.631 0.631 0.631 0.631 0.631 0.631 0.631 0.631 0.631 0.631 0.631 0.631 0.631 0.631 0.631 0.631 0.631 0.631 0.631 0.631 0.631 0.631 0.631 0.631 0.631 0.631 0.631 0.631 0.631 0.631 0.631 0.631 0.631"/><feFuncG type="discrete" tableValues="0.204 0.204 0.204 0.204 0.204 0.204 0.204 0.204 0.204 0.204 0.204 0.204 0.204 0.204 0.204 0.204 0.204 0.204 0.204 0.204 0.204 0.204 0.204 0.204 0.204 0.204 0.204 0.204 0.204 0.204 0.204 0.204 0.204 0.204 0.11 0.11 0.11 0.11 0.11 0.11 0.11 0.11 0.11 0.11 0.11 0.11 0.11 0.11 0.11 0.11 0.11 0.11 0.11 0.11 0.11 0.11 0.11 0.11 0.11 0.11 0.11 0.11 0.11 0.11 0.11 0.11 0.11 0.11 0.11 0.11 0.11 0.11 0.11 0.11 0.11 0.11 0.11 0.11 0.11 0.11"/><feFuncB type="discrete" tableValues="0.271 0.271 0.271 0.271 0.271 0.271 0.271 0.271 0.271 0.271 0.271 0.271 0.271 0.271 0.271 0.271 0.271 0.271 0.271 0.271 0.271 0.271 0.271 0.271 0.271 0.271 0.271 0.271 0.271 0.271 0.271 0.271 0.271 0.271 0.208 0.208 0.208 0.208 0.208 0.208 0.208 0.208 0.208 0.208 0.208 0.208 0.208 0.208 0.208 0.208 0.208 0.208 0.208 0.208 0.208 0.208 0.208 0.208 0.208 0.208 0.208 0.208 0.208 0.208 0.208 0.208 0.208 0.208 0.208 0.208 0.208 0.208 0.208 0.208 0.208 0.208 0.208 0.208 0.208 0.208"/><feFuncA type="discrete" tableValues="1"/></feComponentTransfer><feGaussianBlur stdDeviation="0.6"/></filter>
<filter id="fBand" x="0" y="0" width="100%" height="100%" color-interpolation-filters="sRGB"><feTurbulence type="fractalNoise" baseFrequency="0.05 0.09" numOctaves="2" seed="14"/><feColorMatrix type="matrix" values="1 0 0 0 0 1 0 0 0 0 1 0 0 0 0 0 0 0 0 1"/><feComponentTransfer><feFuncR type="discrete" tableValues="0.722 0.722 0.722 0.722 0.722 0.722 0.722 0.722 0.722 0.722 0.722 0.722 0.722 0.722 0.722 0.722 0.722 0.722 0.722 0.722 0.722 0.722 0.722 0.722 0.722 0.722 0.722 0.722 0.722 0.722 0.863 0.863 0.863 0.863 0.863 0.863 0.863 0.863 0.863 0.863 0.918 0.918 0.918 0.918 0.918 0.918 0.918 0.918 0.843 0.843 0.843 0.843 0.843 0.843 0.843 0.843 0.843 0.843 0.843 0.843 0.843 0.843 0.843 0.843 0.843 0.843 0.843 0.843 0.843 0.843 0.843 0.843 0.843 0.843 0.843 0.843 0.843 0.843 0.843 0.843"/><feFuncG type="discrete" tableValues="0.176 0.176 0.176 0.176 0.176 0.176 0.176 0.176 0.176 0.176 0.176 0.176 0.176 0.176 0.176 0.176 0.176 0.176 0.176 0.176 0.176 0.176 0.176 0.176 0.176 0.176 0.176 0.176 0.176 0.176 0.525 0.525 0.525 0.525 0.525 0.525 0.525 0.525 0.525 0.525 0.698 0.698 0.698 0.698 0.698 0.698 0.698 0.698 0.486 0.486 0.486 0.486 0.486 0.486 0.486 0.486 0.486 0.486 0.486 0.486 0.486 0.486 0.486 0.486 0.486 0.486 0.486 0.486 0.486 0.486 0.486 0.486 0.486 0.486 0.486 0.486 0.486 0.486 0.486 0.486"/><feFuncB type="discrete" tableValues="0.251 0.251 0.251 0.251 0.251 0.251 0.251 0.251 0.251 0.251 0.251 0.251 0.251 0.251 0.251 0.251 0.251 0.251 0.251 0.251 0.251 0.251 0.251 0.251 0.251 0.251 0.251 0.251 0.251 0.251 0.467 0.467 0.467 0.467 0.467 0.467 0.467 0.467 0.467 0.467 0.643 0.643 0.643 0.643 0.643 0.643 0.643 0.643 0.439 0.439 0.439 0.439 0.439 0.439 0.439 0.439 0.439 0.439 0.439 0.439 0.439 0.439 0.439 0.439 0.439 0.439 0.439 0.439 0.439 0.439 0.439 0.439 0.439 0.439 0.439 0.439 0.439 0.439 0.439 0.439"/><feFuncA type="discrete" tableValues="1"/></feComponentTransfer><feGaussianBlur stdDeviation="0.6"/></filter>
<clipPath id="k1"><path d="M535,51.5H680V101H535Z"/></clipPath>
<clipPath id="k2"><path d="M680,51.5H820V101H680Z"/></clipPath>
<filter id="fb" x="-20%" y="-20%" width="140%" height="140%"><feGaussianBlur stdDeviation="1"/></filter><clipPath id="cTL"><rect x="535" y="51.5" width="145" height="49.5"/></clipPath>
<clipPath id="k3"><path d="M608,105.2H643.7V140H608Z"/></clipPath>
<clipPath id="k4"><path d="M608,140H643.7V192H608Z"/></clipPath>
<clipPath id="k5"><path d="M608,192H643.7V385H608Z"/></clipPath>
<clipPath id="k6"><path d="M643.7,105.2H677.5V180H643.7Z"/></clipPath>
<clipPath id="k7"><path d="M643.7,253H677.5V385H643.7Z"/></clipPath>
<clipPath id="k8"><path d="M677.5,105.2 H819 V190 H677.5 V124 C670,124 662,120 656,112 L655,105.2 Z"/></clipPath>
<linearGradient id="gD2" x1="0" y1="0" x2="0" y2="1"><stop offset="0" stop-color="#000"/><stop offset="0.35" stop-color="#fff"/><stop offset="1" stop-color="#fff"/></linearGradient><mask id="mD2" maskUnits="userSpaceOnUse" x="677" y="135" width="143" height="106"><rect x="677" y="135" width="143" height="106" fill="url(#gD2)"/></mask>
<clipPath id="k9"><path d="M677.5,168 C690,160 700,172 715,163 C730,155 740,168 760,158 C775,150 790,162 805,152 L819,150 L819,240 L677.5,240 Z"/></clipPath>
<clipPath id="k10"><path d="M643.7,224H688V253H643.7Z"/></clipPath>
<clipPath id="k11"><path d="M688,236 C710,226 760,222 805,236 L805,250 C770,262 720,258 688,252 Z"/></clipPath>
<clipPath id="k12"><path d="M677.5,253.7 L688,252 C720,258 770,262 805,250 L805,236 L819,236 L819,297 L677.5,297 Z"/></clipPath>
<clipPath id="k13"><path d="M677.5,291 L757,292 L819,294 L819,360 L757,362 L677.5,365 Z"/></clipPath>
<clipPath id="k14"><path d="M677.5,365 L757,362 L819,360 L819,385 L677.5,385 Z"/></clipPath></defs>
<rect x="535.0" y="24.0" width="291.0" height="368.0" fill="#f4f4f4" />
<rect x="535.0" y="24.0" width="291.0" height="10.3" fill="#f4f4f4" />
<rect x="535.0" y="34.3" width="291.0" height="1.0" fill="#ebebeb" />
<rect x="535.0" y="35.3" width="291.0" height="9.7" fill="#f9f9f9" />
<rect x="535.0" y="45.0" width="286.0" height="6.5" fill="#c2c2c2" />
<rect x="819.0" y="45.0" width="7.0" height="347.0" fill="#bcbcbc" />
<path d="M535,51.5H680V101H535Z" fill="#aeb4a3"/>
<g clip-path="url(#k1)"><g transform="rotate(-8 608 76)"><rect x="478.0" y="-54.0" width="260" height="260" fill="#aeb4a3" filter="url(#fTopL)"/></g></g>
<path d="M680,51.5H820V101H680Z" fill="#9a7369"/>
<g clip-path="url(#k2)"><g transform="rotate(28 750 76)"><rect x="620.0" y="-54.0" width="260" height="260" fill="#9a7369" filter="url(#fTopR)"/></g></g>
<g clip-path="url(#cTL)"><g filter="url(#fb)">
<ellipse cx="587" cy="56" rx="5" ry="5" fill="#a51d36"/>
<ellipse cx="589" cy="62.5" rx="4" ry="2.5" fill="#1f6e3e"/>
<ellipse cx="571" cy="71.5" rx="7" ry="4.5" fill="#c0404e"/>
<ellipse cx="539" cy="85" rx="6" ry="9" fill="#e59a86"/>
<ellipse cx="550" cy="85" rx="7" ry="2.5" fill="#d0605e"/>
<ellipse cx="610" cy="85.5" rx="8" ry="7" fill="#b52c42"/>
<ellipse cx="633" cy="97" rx="10" ry="4" fill="#9e1d36"/>
<ellipse cx="661.5" cy="79.5" rx="10" ry="6" fill="#981a33"/>
<ellipse cx="610.5" cy="97.5" rx="3" ry="3.5" fill="#a51d36"/>
<ellipse cx="629.5" cy="73.5" rx="6" ry="4.5" fill="#e3917e"/>
<ellipse cx="660" cy="62.5" rx="4" ry="4.5" fill="#c8505a"/>
<ellipse cx="600" cy="69" rx="6" ry="2.2" fill="#2a7a48"/>
<ellipse cx="610" cy="91.5" rx="17" ry="2.5" fill="#2f8550"/>
<ellipse cx="585" cy="90" rx="6" ry="9" fill="#b9dac6"/>
<ellipse cx="552" cy="60" rx="14" ry="6" fill="#4f9e6e"/>
<ellipse cx="545" cy="70" rx="9" ry="4" fill="#a9d3ba"/>
</g></g>
<rect x="592.0" y="45.0" width="60.0" height="21.3" fill="#bdbdbd" />
<rect x="535.0" y="101.0" width="286.0" height="4.2" fill="#b7b7b7" />
<rect x="602.0" y="105.2" width="6.0" height="275.8" fill="#1e6b3d" />
<path d="M608,105.2H643.7V140H608Z" fill="#d4e3da"/>
<g clip-path="url(#k3)"><g transform="rotate(0 625 122)"><rect x="585.0" y="82.0" width="80" height="80" fill="#d4e3da" filter="url(#fMintT)"/></g></g>
<path d="M608,140H643.7V192H608Z" fill="#add2bc"/>
<g clip-path="url(#k4)"><g transform="rotate(0 625 166)"><rect x="585.0" y="126.0" width="80" height="80" fill="#add2bc" filter="url(#fMintS)"/></g></g>
<path d="M608,192H643.7V385H608Z" fill="#bdd5c6"/>
<g clip-path="url(#k5)"><g transform="rotate(0 625 290)"><rect x="475.0" y="140.0" width="300" height="300" fill="#bdd5c6" filter="url(#fMint)"/></g></g>
<path d="M643.7,105.2H677.5V180H643.7Z" fill="#e4a396"/>
<g clip-path="url(#k6)"><g transform="rotate(0 660 142)"><rect x="600.0" y="82.0" width="120" height="120" fill="#e4a396" filter="url(#fSal)"/></g></g>
<rect x="643.7" y="180.0" width="33.8" height="44.0" fill="#f2e3df" />
<path d="M643.7,253H677.5V385H643.7Z" fill="#d6e0d4"/>
<g clip-path="url(#k7)"><g transform="rotate(0 660 320)"><rect x="580.0" y="240.0" width="160" height="160" fill="#d6e0d4" filter="url(#fMintP)"/></g></g>
<path d="M677.5,105.2 H819 V190 H677.5 V124 C670,124 662,120 656,112 L655,105.2 Z" fill="#6e5f50"/>
<g clip-path="url(#k8)"><g transform="rotate(18 748 152)"><rect x="608.0" y="12.0" width="280" height="280" fill="#6e5f50" filter="url(#fDense)"/></g></g>
<path d="M677.5,168 C690,160 700,172 715,163 C730,155 740,168 760,158 C775,150 790,162 805,152 L819,150 L819,240 L677.5,240 Z" fill="#846d62"/>
<g clip-path="url(#k9)"><g transform="rotate(22 748 200)"><rect x="638.0" y="90.0" width="220" height="220" fill="#846d62" filter="url(#fDense2)"/></g></g>
<path d="M643.7,224H688V253H643.7Z" fill="#a42037"/>
<g clip-path="url(#k10)"><g transform="rotate(0 665 238)"><rect x="625.0" y="198.0" width="80" height="80" fill="#a42037" filter="url(#fRedBlk)"/></g></g>
<path d="M688,236 C710,226 760,222 805,236 L805,250 C770,262 720,258 688,252 Z" fill="#da9084"/>
<g clip-path="url(#k11)"><g transform="rotate(0 745 240)"><rect x="665.0" y="160.0" width="160" height="160" fill="#da9084" filter="url(#fBand)"/></g></g>
<path d="M677.5,253.7 L688,252 C720,258 770,262 805,250 L805,236 L819,236 L819,297 L677.5,297 Z" fill="#b89f92"/>
<g clip-path="url(#k12)"><g transform="rotate(25 748 270)"><rect x="648.0" y="170.0" width="200" height="200" fill="#b89f92" filter="url(#fDash)"/></g></g>
<path d="M677.5,291 L757,292 L819,294 L819,360 L757,362 L677.5,365 Z" fill="#b64755"/>
<g clip-path="url(#k13)"><g transform="rotate(0 748 328)"><rect x="648.0" y="228.0" width="200" height="200" fill="#b64755" filter="url(#fRed)"/></g></g>
<path d="M704,336 C712,328 735,326 756,328 L757,350 C750,360 735,363 722,359 C712,355 705,346 704,336 Z" fill="#8fc9a6"/>
<path d="M716,340 C724,334 740,334 748,340 C750,350 742,357 731,357 C722,356 715,348 716,340 Z" fill="#5aae7e"/>
<ellipse cx="731" cy="349" rx="8" ry="5" fill="#2f8a56"/>
<path d="M677.5,365 L757,362 L819,360 L819,385 L677.5,385 Z" fill="#b89f92"/>
<g clip-path="url(#k14)"><g transform="rotate(25 748 375)"><rect x="648.0" y="275.0" width="200" height="200" fill="#b89f92" filter="url(#fDash)"/></g></g>
<rect x="755.5" y="246.0" width="3.5" height="139.0" fill="#a5d2b8" />
<rect x="787.5" y="255.0" width="3.0" height="115.0" fill="#e2c2b8" />
<path d="M677.5,341 L712,331 L757,323" stroke="#e6b2a8" stroke-width="2.2" fill="none"/>
<path d="M760,318 L818,306" stroke="#e6b2a8" stroke-width="2.2" fill="none"/>
<circle cx="745" cy="242" r="4" fill="#a5d2b8"/>
<rect x="606.0" y="385.0" width="220.0" height="7.0" fill="#c4c4c4" />
<path d="M610,364 L614,361.5 L617,363.5 L624,363 L625,372 L630,377 L622,376 L612,377 L609.5,372 Z" fill="#b3354a"/>
<rect x="613" y="366" width="9" height="7.5" fill="#f2c8cc"/>
<rect x="615" y="368" width="5" height="3.5" fill="#c23a50"/>
</svg>
<div class="abs" style="left:0;top:358px;width:87px;height:11px;background:#fff;font-size:9.6px;color:#5a5a5a;line-height:11px;padding-left:3px;white-space:nowrap;-webkit-text-stroke:0.1px #5a5a5a">&copy; OpenStreetMap</div>
</div>

<div class="mapbtn" style="top:32.1px;height:19.4px"><svg width="20" height="18" viewBox="0 0 20 18"><circle cx="11" cy="7.6" r="3.7" fill="none" stroke="#555" stroke-width="1.1"/><line x1="9" y1="10.2" x2="5.5" y2="13.7" stroke="#555" stroke-width="1.3"/></svg></div>
<div class="mapbtn" style="top:62.4px;height:20.6px"><svg width="20" height="19" viewBox="0 0 20 19"><path d="M10 3.5 L15.5 7 L10 10.5 L4.5 7 Z" fill="none" stroke="#555" stroke-width="0.9"/><path d="M4.5 9.5 L10 13 L15.5 9.5" fill="none" stroke="#555" stroke-width="0.9"/><path d="M4.5 12 L10 15.5 L15.5 12" fill="none" stroke="#555" stroke-width="0.9"/></svg></div>
<div class="mapbtn" style="top:93px;height:72px">
<svg width="20" height="70" viewBox="0 0 20 70"><g stroke="#555" stroke-width="1.2"><line x1="6.3" y1="9" x2="14.7" y2="9"/><line x1="10.5" y1="4.8" x2="10.5" y2="13.2"/><line x1="6.5" y1="24.5" x2="14.5" y2="24.5"/></g>
<path d="M5.8 45.5 V39.3 L10.5 35 L15.2 39.3 V45.5 H12.2 V41.5 H8.8 V45.5 Z" fill="none" stroke="#555" stroke-width="1"/>
<line x1="1" y1="51" x2="19" y2="51" stroke="#dedede"/>
<path d="M8.5 57.5 L13.5 61 L8.5 64.5 Z" fill="#555"/></svg></div>
</body></html>
